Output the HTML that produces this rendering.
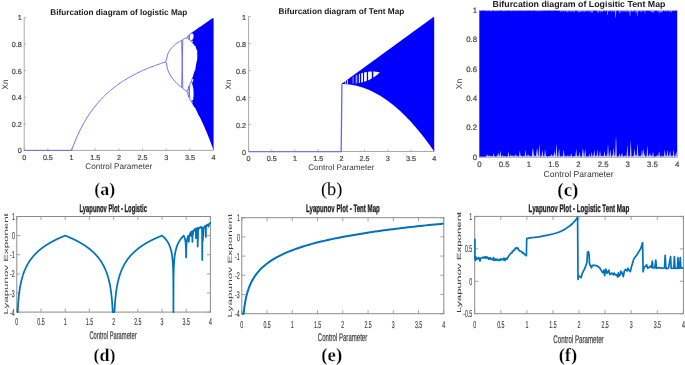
<!DOCTYPE html>
<html><head><meta charset="utf-8"><style>
html,body{margin:0;padding:0;background:#fff;overflow:hidden;}
svg{display:block;filter:blur(0.5px);}
text{font-family:"Liberation Sans",sans-serif;text-rendering:geometricPrecision;}
</style></head><body>
<svg width="685" height="365" viewBox="0 0 685 365">
<rect width="685" height="365" fill="#fff"/>
<g font-family="Liberation Sans, sans-serif">
<path d="M24.20 17.40V150.40H213.60" fill="none" stroke="#a0a0a0" stroke-width="0.9"/>
<path d="M24.20 150.40v-2.0M47.88 150.40v-2.0M71.55 150.40v-2.0M95.23 150.40v-2.0M118.90 150.40v-2.0M142.57 150.40v-2.0M166.25 150.40v-2.0M189.92 150.40v-2.0M213.60 150.40v-2.0M24.20 150.40h2.0M24.20 123.80h2.0M24.20 97.20h2.0M24.20 70.60h2.0M24.20 44.00h2.0M24.20 17.40h2.0" stroke="#a0a0a0" stroke-width="0.8"/>
<text x="24.20" y="159.70" text-anchor="middle" font-size="7.2" fill="#4a4a4a" stroke="#4a4a4a" stroke-width="0.22">0</text>
<text x="47.88" y="159.70" text-anchor="middle" font-size="7.2" fill="#4a4a4a" stroke="#4a4a4a" stroke-width="0.22">0.5</text>
<text x="71.55" y="159.70" text-anchor="middle" font-size="7.2" fill="#4a4a4a" stroke="#4a4a4a" stroke-width="0.22">1</text>
<text x="95.23" y="159.70" text-anchor="middle" font-size="7.2" fill="#4a4a4a" stroke="#4a4a4a" stroke-width="0.22">1.5</text>
<text x="118.90" y="159.70" text-anchor="middle" font-size="7.2" fill="#4a4a4a" stroke="#4a4a4a" stroke-width="0.22">2</text>
<text x="142.57" y="159.70" text-anchor="middle" font-size="7.2" fill="#4a4a4a" stroke="#4a4a4a" stroke-width="0.22">2.5</text>
<text x="166.25" y="159.70" text-anchor="middle" font-size="7.2" fill="#4a4a4a" stroke="#4a4a4a" stroke-width="0.22">3</text>
<text x="189.92" y="159.70" text-anchor="middle" font-size="7.2" fill="#4a4a4a" stroke="#4a4a4a" stroke-width="0.22">3.5</text>
<text x="213.60" y="159.70" text-anchor="middle" font-size="7.2" fill="#4a4a4a" stroke="#4a4a4a" stroke-width="0.22">4</text>
<text x="21.70" y="153.49" text-anchor="end" font-size="7.2" fill="#4a4a4a" stroke="#4a4a4a" stroke-width="0.22">0</text>
<text x="21.70" y="126.89" text-anchor="end" font-size="7.2" fill="#4a4a4a" stroke="#4a4a4a" stroke-width="0.22">0.2</text>
<text x="21.70" y="100.29" text-anchor="end" font-size="7.2" fill="#4a4a4a" stroke="#4a4a4a" stroke-width="0.22">0.4</text>
<text x="21.70" y="73.69" text-anchor="end" font-size="7.2" fill="#4a4a4a" stroke="#4a4a4a" stroke-width="0.22">0.6</text>
<text x="21.70" y="47.09" text-anchor="end" font-size="7.2" fill="#4a4a4a" stroke="#4a4a4a" stroke-width="0.22">0.8</text>
<text x="21.70" y="20.49" text-anchor="end" font-size="7.2" fill="#4a4a4a" stroke="#4a4a4a" stroke-width="0.22">1</text>
<text x="118.80" y="14.60" text-anchor="middle" font-size="8.2" font-weight="bold" fill="#1a1a1a">Bifurcation diagram of logistic Map</text>
<text x="118.80" y="168.80" text-anchor="middle" font-size="8.2" fill="#383838">Control Parameter</text>
<text transform="translate(8.30,84.40) rotate(-90)" text-anchor="middle" font-size="8.2" fill="#383838">Xn</text>
<text x="104.75" y="194.80" text-anchor="middle" style="font-family:'Liberation Serif',serif" font-size="17.9" font-weight="bold" fill="#000" stroke="#fff" stroke-width="0.25">(a)</text>
<path d="M248.60 16.50V151.50H434.20" fill="none" stroke="#a0a0a0" stroke-width="0.9"/>
<path d="M248.60 151.50v-2.0M271.80 151.50v-2.0M295.00 151.50v-2.0M318.20 151.50v-2.0M341.40 151.50v-2.0M364.60 151.50v-2.0M387.80 151.50v-2.0M411.00 151.50v-2.0M434.20 151.50v-2.0M248.60 151.50h2.0M248.60 124.50h2.0M248.60 97.50h2.0M248.60 70.50h2.0M248.60 43.50h2.0M248.60 16.50h2.0" stroke="#a0a0a0" stroke-width="0.8"/>
<text x="248.60" y="160.80" text-anchor="middle" font-size="7.2" fill="#4a4a4a" stroke="#4a4a4a" stroke-width="0.22">0</text>
<text x="271.80" y="160.80" text-anchor="middle" font-size="7.2" fill="#4a4a4a" stroke="#4a4a4a" stroke-width="0.22">0.5</text>
<text x="295.00" y="160.80" text-anchor="middle" font-size="7.2" fill="#4a4a4a" stroke="#4a4a4a" stroke-width="0.22">1</text>
<text x="318.20" y="160.80" text-anchor="middle" font-size="7.2" fill="#4a4a4a" stroke="#4a4a4a" stroke-width="0.22">1.5</text>
<text x="341.40" y="160.80" text-anchor="middle" font-size="7.2" fill="#4a4a4a" stroke="#4a4a4a" stroke-width="0.22">2</text>
<text x="364.60" y="160.80" text-anchor="middle" font-size="7.2" fill="#4a4a4a" stroke="#4a4a4a" stroke-width="0.22">2.5</text>
<text x="387.80" y="160.80" text-anchor="middle" font-size="7.2" fill="#4a4a4a" stroke="#4a4a4a" stroke-width="0.22">3</text>
<text x="411.00" y="160.80" text-anchor="middle" font-size="7.2" fill="#4a4a4a" stroke="#4a4a4a" stroke-width="0.22">3.5</text>
<text x="434.20" y="160.80" text-anchor="middle" font-size="7.2" fill="#4a4a4a" stroke="#4a4a4a" stroke-width="0.22">4</text>
<text x="246.10" y="154.59" text-anchor="end" font-size="7.2" fill="#4a4a4a" stroke="#4a4a4a" stroke-width="0.22">0</text>
<text x="246.10" y="127.59" text-anchor="end" font-size="7.2" fill="#4a4a4a" stroke="#4a4a4a" stroke-width="0.22">0.2</text>
<text x="246.10" y="100.59" text-anchor="end" font-size="7.2" fill="#4a4a4a" stroke="#4a4a4a" stroke-width="0.22">0.4</text>
<text x="246.10" y="73.59" text-anchor="end" font-size="7.2" fill="#4a4a4a" stroke="#4a4a4a" stroke-width="0.22">0.6</text>
<text x="246.10" y="46.59" text-anchor="end" font-size="7.2" fill="#4a4a4a" stroke="#4a4a4a" stroke-width="0.22">0.8</text>
<text x="246.10" y="19.59" text-anchor="end" font-size="7.2" fill="#4a4a4a" stroke="#4a4a4a" stroke-width="0.22">1</text>
<text x="341.40" y="14.20" text-anchor="middle" font-size="8.26" font-weight="bold" fill="#1a1a1a">Bifurcation diagram of Tent Map</text>
<text x="341.30" y="170.00" text-anchor="middle" font-size="8.1" fill="#383838">Control Parameter</text>
<text transform="translate(231.40,84.50) rotate(-90)" text-anchor="middle" font-size="8.1" fill="#383838">Xn</text>
<text x="331.65" y="194.60" text-anchor="middle" style="font-family:'Liberation Serif',serif" font-size="18.4" font-weight="normal" fill="#000">(b)</text>
<path d="M479.50 10.50V157.30H677.20" fill="none" stroke="#a0a0a0" stroke-width="0.9"/>
<path d="M479.50 157.30v-2.0M504.21 157.30v-2.0M528.92 157.30v-2.0M553.64 157.30v-2.0M578.35 157.30v-2.0M603.06 157.30v-2.0M627.78 157.30v-2.0M652.49 157.30v-2.0M677.20 157.30v-2.0M479.50 157.30h2.0M479.50 127.94h2.0M479.50 98.58h2.0M479.50 69.22h2.0M479.50 39.86h2.0M479.50 10.50h2.0" stroke="#a0a0a0" stroke-width="0.8"/>
<text x="479.50" y="166.80" text-anchor="middle" font-size="7.8" fill="#4a4a4a" stroke="#4a4a4a" stroke-width="0.22">0</text>
<text x="504.21" y="166.80" text-anchor="middle" font-size="7.8" fill="#4a4a4a" stroke="#4a4a4a" stroke-width="0.22">0.5</text>
<text x="528.92" y="166.80" text-anchor="middle" font-size="7.8" fill="#4a4a4a" stroke="#4a4a4a" stroke-width="0.22">1</text>
<text x="553.64" y="166.80" text-anchor="middle" font-size="7.8" fill="#4a4a4a" stroke="#4a4a4a" stroke-width="0.22">1.5</text>
<text x="578.35" y="166.80" text-anchor="middle" font-size="7.8" fill="#4a4a4a" stroke="#4a4a4a" stroke-width="0.22">2</text>
<text x="603.06" y="166.80" text-anchor="middle" font-size="7.8" fill="#4a4a4a" stroke="#4a4a4a" stroke-width="0.22">2.5</text>
<text x="627.78" y="166.80" text-anchor="middle" font-size="7.8" fill="#4a4a4a" stroke="#4a4a4a" stroke-width="0.22">3</text>
<text x="652.49" y="166.80" text-anchor="middle" font-size="7.8" fill="#4a4a4a" stroke="#4a4a4a" stroke-width="0.22">3.5</text>
<text x="677.20" y="166.80" text-anchor="middle" font-size="7.8" fill="#4a4a4a" stroke="#4a4a4a" stroke-width="0.22">4</text>
<text x="477.00" y="159.71" text-anchor="end" font-size="7.8" fill="#4a4a4a" stroke="#4a4a4a" stroke-width="0.22">0</text>
<text x="477.00" y="130.35" text-anchor="end" font-size="7.8" fill="#4a4a4a" stroke="#4a4a4a" stroke-width="0.22">0.2</text>
<text x="477.00" y="100.99" text-anchor="end" font-size="7.8" fill="#4a4a4a" stroke="#4a4a4a" stroke-width="0.22">0.4</text>
<text x="477.00" y="71.63" text-anchor="end" font-size="7.8" fill="#4a4a4a" stroke="#4a4a4a" stroke-width="0.22">0.6</text>
<text x="477.00" y="42.27" text-anchor="end" font-size="7.8" fill="#4a4a4a" stroke="#4a4a4a" stroke-width="0.22">0.8</text>
<text x="477.00" y="12.91" text-anchor="end" font-size="7.8" fill="#4a4a4a" stroke="#4a4a4a" stroke-width="0.22">1</text>
<text x="579.00" y="7.20" text-anchor="middle" font-size="8.8" font-weight="bold" fill="#1a1a1a">Bifurcation diagram of Logisitic Tent Map</text>
<text x="578.60" y="177.00" text-anchor="middle" font-size="8.58" fill="#383838">Control Parameter</text>
<text transform="translate(461.90,84.00) rotate(-90)" text-anchor="middle" font-size="8.58" fill="#383838">Xn</text>
<text x="567.90" y="195.60" text-anchor="middle" style="font-family:'Liberation Serif',serif" font-size="19.0" font-weight="bold" fill="#000" stroke="#fff" stroke-width="0.25">(c)</text>
<rect x="16.80" y="216.50" width="193.60" height="95.60" fill="none" stroke="#8c8c8c" stroke-width="1.0"/>
<path d="M16.80 312.10v-3.5M16.80 216.50v3.5M41.00 312.10v-3.5M41.00 216.50v3.5M65.20 312.10v-3.5M65.20 216.50v3.5M89.40 312.10v-3.5M89.40 216.50v3.5M113.60 312.10v-3.5M113.60 216.50v3.5M137.80 312.10v-3.5M137.80 216.50v3.5M162.00 312.10v-3.5M162.00 216.50v3.5M186.20 312.10v-3.5M186.20 216.50v3.5M210.40 312.10v-3.5M210.40 216.50v3.5M16.80 312.10h3.5M210.40 312.10h-3.5M16.80 292.98h3.5M210.40 292.98h-3.5M16.80 273.86h3.5M210.40 273.86h-3.5M16.80 254.74h3.5M210.40 254.74h-3.5M16.80 235.62h3.5M210.40 235.62h-3.5M16.80 216.50h3.5M210.40 216.50h-3.5" stroke="#8c8c8c" stroke-width="0.8"/>
<text transform="translate(16.80,325.00) scale(0.525,1)" text-anchor="middle" font-size="10.0" fill="#383838" stroke="#383838" stroke-width="0.15">0</text>
<text transform="translate(41.00,325.00) scale(0.525,1)" text-anchor="middle" font-size="10.0" fill="#383838" stroke="#383838" stroke-width="0.15">0.5</text>
<text transform="translate(65.20,325.00) scale(0.525,1)" text-anchor="middle" font-size="10.0" fill="#383838" stroke="#383838" stroke-width="0.15">1</text>
<text transform="translate(89.40,325.00) scale(0.525,1)" text-anchor="middle" font-size="10.0" fill="#383838" stroke="#383838" stroke-width="0.15">1.5</text>
<text transform="translate(113.60,325.00) scale(0.525,1)" text-anchor="middle" font-size="10.0" fill="#383838" stroke="#383838" stroke-width="0.15">2</text>
<text transform="translate(137.80,325.00) scale(0.525,1)" text-anchor="middle" font-size="10.0" fill="#383838" stroke="#383838" stroke-width="0.15">2.5</text>
<text transform="translate(162.00,325.00) scale(0.525,1)" text-anchor="middle" font-size="10.0" fill="#383838" stroke="#383838" stroke-width="0.15">3</text>
<text transform="translate(186.20,325.00) scale(0.525,1)" text-anchor="middle" font-size="10.0" fill="#383838" stroke="#383838" stroke-width="0.15">3.5</text>
<text transform="translate(210.40,325.00) scale(0.525,1)" text-anchor="middle" font-size="10.0" fill="#383838" stroke="#383838" stroke-width="0.15">4</text>
<text transform="translate(14.80,315.70) scale(0.525,1)" text-anchor="end" font-size="10.0" fill="#383838" stroke="#383838" stroke-width="0.15">-4</text>
<text transform="translate(14.80,296.58) scale(0.525,1)" text-anchor="end" font-size="10.0" fill="#383838" stroke="#383838" stroke-width="0.15">-3</text>
<text transform="translate(14.80,277.46) scale(0.525,1)" text-anchor="end" font-size="10.0" fill="#383838" stroke="#383838" stroke-width="0.15">-2</text>
<text transform="translate(14.80,258.34) scale(0.525,1)" text-anchor="end" font-size="10.0" fill="#383838" stroke="#383838" stroke-width="0.15">-1</text>
<text transform="translate(14.80,239.22) scale(0.525,1)" text-anchor="end" font-size="10.0" fill="#383838" stroke="#383838" stroke-width="0.15">0</text>
<text transform="translate(14.80,220.10) scale(0.525,1)" text-anchor="end" font-size="10.0" fill="#383838" stroke="#383838" stroke-width="0.15">1</text>
<text transform="translate(113.20,212.20) scale(0.529,1)" text-anchor="middle" font-size="11.0" font-weight="bold" fill="#1a1a1a" stroke="#1a1a1a" stroke-width="0.3">Lyapunov Plot - Logistic</text>
<text transform="translate(113.00,339.00) scale(0.525,1)" text-anchor="middle" font-size="11.0" fill="#404040" stroke="#404040" stroke-width="0.25">Control Parameter</text>
<text transform="translate(7.60,263.80) scale(0.52,1) rotate(-90)" text-anchor="middle" font-size="11.5" fill="#404040">Lyapunov Exponent</text>
<text x="104.45" y="361.20" text-anchor="middle" style="font-family:'Liberation Serif',serif" font-size="18.0" font-weight="bold" fill="#000" stroke="#fff" stroke-width="0.25">(d)</text>
<rect x="241.80" y="217.70" width="202.00" height="96.00" fill="none" stroke="#8c8c8c" stroke-width="1.0"/>
<path d="M241.80 313.70v-3.5M241.80 217.70v3.5M267.05 313.70v-3.5M267.05 217.70v3.5M292.30 313.70v-3.5M292.30 217.70v3.5M317.55 313.70v-3.5M317.55 217.70v3.5M342.80 313.70v-3.5M342.80 217.70v3.5M368.05 313.70v-3.5M368.05 217.70v3.5M393.30 313.70v-3.5M393.30 217.70v3.5M418.55 313.70v-3.5M418.55 217.70v3.5M443.80 313.70v-3.5M443.80 217.70v3.5M241.80 313.70h3.5M443.80 313.70h-3.5M241.80 294.50h3.5M443.80 294.50h-3.5M241.80 275.30h3.5M443.80 275.30h-3.5M241.80 256.10h3.5M443.80 256.10h-3.5M241.80 236.90h3.5M443.80 236.90h-3.5M241.80 217.70h3.5M443.80 217.70h-3.5" stroke="#8c8c8c" stroke-width="0.8"/>
<text transform="translate(241.80,327.90) scale(0.525,1)" text-anchor="middle" font-size="10.0" fill="#383838" stroke="#383838" stroke-width="0.15">0</text>
<text transform="translate(267.05,327.90) scale(0.525,1)" text-anchor="middle" font-size="10.0" fill="#383838" stroke="#383838" stroke-width="0.15">0.5</text>
<text transform="translate(292.30,327.90) scale(0.525,1)" text-anchor="middle" font-size="10.0" fill="#383838" stroke="#383838" stroke-width="0.15">1</text>
<text transform="translate(317.55,327.90) scale(0.525,1)" text-anchor="middle" font-size="10.0" fill="#383838" stroke="#383838" stroke-width="0.15">1.5</text>
<text transform="translate(342.80,327.90) scale(0.525,1)" text-anchor="middle" font-size="10.0" fill="#383838" stroke="#383838" stroke-width="0.15">2</text>
<text transform="translate(368.05,327.90) scale(0.525,1)" text-anchor="middle" font-size="10.0" fill="#383838" stroke="#383838" stroke-width="0.15">2.5</text>
<text transform="translate(393.30,327.90) scale(0.525,1)" text-anchor="middle" font-size="10.0" fill="#383838" stroke="#383838" stroke-width="0.15">3</text>
<text transform="translate(418.55,327.90) scale(0.525,1)" text-anchor="middle" font-size="10.0" fill="#383838" stroke="#383838" stroke-width="0.15">3.5</text>
<text transform="translate(443.80,327.90) scale(0.525,1)" text-anchor="middle" font-size="10.0" fill="#383838" stroke="#383838" stroke-width="0.15">4</text>
<text transform="translate(239.80,317.30) scale(0.525,1)" text-anchor="end" font-size="10.0" fill="#383838" stroke="#383838" stroke-width="0.15">-4</text>
<text transform="translate(239.80,298.10) scale(0.525,1)" text-anchor="end" font-size="10.0" fill="#383838" stroke="#383838" stroke-width="0.15">-3</text>
<text transform="translate(239.80,278.90) scale(0.525,1)" text-anchor="end" font-size="10.0" fill="#383838" stroke="#383838" stroke-width="0.15">-2</text>
<text transform="translate(239.80,259.70) scale(0.525,1)" text-anchor="end" font-size="10.0" fill="#383838" stroke="#383838" stroke-width="0.15">-1</text>
<text transform="translate(239.80,240.50) scale(0.525,1)" text-anchor="end" font-size="10.0" fill="#383838" stroke="#383838" stroke-width="0.15">0</text>
<text transform="translate(239.80,221.30) scale(0.525,1)" text-anchor="end" font-size="10.0" fill="#383838" stroke="#383838" stroke-width="0.15">1</text>
<text transform="translate(342.90,212.40) scale(0.556,1)" text-anchor="middle" font-size="11.0" font-weight="bold" fill="#1a1a1a" stroke="#1a1a1a" stroke-width="0.3">Lyapunov Plot - Tent Map</text>
<text transform="translate(342.50,341.20) scale(0.55,1)" text-anchor="middle" font-size="11.0" fill="#404040" stroke="#404040" stroke-width="0.25">Control Parameter</text>
<text transform="translate(232.20,265.60) scale(0.52,1) rotate(-90)" text-anchor="middle" font-size="11.8" fill="#404040">Lyapunov Exponent</text>
<text x="331.75" y="361.40" text-anchor="middle" style="font-family:'Liberation Serif',serif" font-size="18.8" font-weight="bold" fill="#000" stroke="#fff" stroke-width="0.25">(e)</text>
<rect x="474.70" y="216.40" width="208.70" height="97.30" fill="none" stroke="#8c8c8c" stroke-width="1.0"/>
<path d="M474.70 313.70v-3.5M474.70 216.40v3.5M500.79 313.70v-3.5M500.79 216.40v3.5M526.88 313.70v-3.5M526.88 216.40v3.5M552.96 313.70v-3.5M552.96 216.40v3.5M579.05 313.70v-3.5M579.05 216.40v3.5M605.14 313.70v-3.5M605.14 216.40v3.5M631.22 313.70v-3.5M631.22 216.40v3.5M657.31 313.70v-3.5M657.31 216.40v3.5M683.40 313.70v-3.5M683.40 216.40v3.5M474.70 313.70h3.5M683.40 313.70h-3.5M474.70 281.27h3.5M683.40 281.27h-3.5M474.70 248.83h3.5M683.40 248.83h-3.5M474.70 216.40h3.5M683.40 216.40h-3.5" stroke="#8c8c8c" stroke-width="0.8"/>
<text transform="translate(474.70,328.20) scale(0.525,1)" text-anchor="middle" font-size="10.0" fill="#383838" stroke="#383838" stroke-width="0.15">0</text>
<text transform="translate(500.79,328.20) scale(0.525,1)" text-anchor="middle" font-size="10.0" fill="#383838" stroke="#383838" stroke-width="0.15">0.5</text>
<text transform="translate(526.88,328.20) scale(0.525,1)" text-anchor="middle" font-size="10.0" fill="#383838" stroke="#383838" stroke-width="0.15">1</text>
<text transform="translate(552.96,328.20) scale(0.525,1)" text-anchor="middle" font-size="10.0" fill="#383838" stroke="#383838" stroke-width="0.15">1.5</text>
<text transform="translate(579.05,328.20) scale(0.525,1)" text-anchor="middle" font-size="10.0" fill="#383838" stroke="#383838" stroke-width="0.15">2</text>
<text transform="translate(605.14,328.20) scale(0.525,1)" text-anchor="middle" font-size="10.0" fill="#383838" stroke="#383838" stroke-width="0.15">2.5</text>
<text transform="translate(631.22,328.20) scale(0.525,1)" text-anchor="middle" font-size="10.0" fill="#383838" stroke="#383838" stroke-width="0.15">3</text>
<text transform="translate(657.31,328.20) scale(0.525,1)" text-anchor="middle" font-size="10.0" fill="#383838" stroke="#383838" stroke-width="0.15">3.5</text>
<text transform="translate(683.40,328.20) scale(0.525,1)" text-anchor="middle" font-size="10.0" fill="#383838" stroke="#383838" stroke-width="0.15">4</text>
<text transform="translate(472.20,317.30) scale(0.525,1)" text-anchor="end" font-size="10.0" fill="#383838" stroke="#383838" stroke-width="0.15">-0.5</text>
<text transform="translate(472.20,284.87) scale(0.525,1)" text-anchor="end" font-size="10.0" fill="#383838" stroke="#383838" stroke-width="0.15">0</text>
<text transform="translate(472.20,252.43) scale(0.525,1)" text-anchor="end" font-size="10.0" fill="#383838" stroke="#383838" stroke-width="0.15">0.5</text>
<text transform="translate(472.20,220.00) scale(0.525,1)" text-anchor="end" font-size="10.0" fill="#383838" stroke="#383838" stroke-width="0.15">1</text>
<text transform="translate(578.90,211.70) scale(0.566,1)" text-anchor="middle" font-size="11.0" font-weight="bold" fill="#1a1a1a" stroke="#1a1a1a" stroke-width="0.3">Lyapunov Plot - Logistic Tent Map</text>
<text transform="translate(578.50,343.00) scale(0.56,1)" text-anchor="middle" font-size="11.0" fill="#404040" stroke="#404040" stroke-width="0.25">Control Parameter</text>
<text transform="translate(460.60,262.30) scale(0.52,1) rotate(-90)" text-anchor="middle" font-size="11.5" fill="#404040" stroke="#404040" stroke-width="0.1">Lyapunov Exponent</text>
<text x="567.95" y="361.40" text-anchor="middle" style="font-family:'Liberation Serif',serif" font-size="18.6" font-weight="bold" fill="#000" stroke="#fff" stroke-width="0.25">(f)</text>
<path d="M24.20 150.40 25.38 150.40 26.57 150.40 27.75 150.40 28.93 150.40 30.12 150.40 31.30 150.40 32.49 150.40 33.67 150.40 34.85 150.40 36.04 150.40 37.22 150.40 38.41 150.40 39.59 150.40 40.77 150.40 41.96 150.40 43.14 150.40 44.32 150.40 45.51 150.40 46.69 150.40 47.88 150.40 49.06 150.40 50.24 150.40 51.43 150.40 52.61 150.40 53.79 150.40 54.98 150.40 56.16 150.40 57.34 150.40 58.53 150.40 59.71 150.40 60.90 150.40 62.08 150.40 63.26 150.40 64.45 150.40 65.63 150.40 66.81 150.40 68.00 150.40 69.18 150.40 70.37 150.40 71.55 150.27 72.73 147.16 73.92 144.07 75.10 141.12 76.29 138.31 77.47 135.62 78.65 133.05 79.84 130.59 81.02 128.23 82.20 125.97 83.39 123.80 84.57 121.71 85.76 119.71 86.94 117.78 88.12 115.92 89.31 114.13 90.49 112.40 91.67 110.73 92.86 109.12 94.04 107.57 95.23 106.07 96.41 104.61 97.59 103.21 98.78 101.84 99.96 100.53 101.14 99.25 102.33 98.01 103.51 96.80 104.70 95.64 105.88 94.50 107.06 93.40 108.25 92.33 109.43 91.29 110.61 90.28 111.80 89.29 112.98 88.33 114.17 87.40 115.35 86.49 116.53 85.61 117.72 84.74 118.90 83.90 120.08 83.08 121.27 82.28 122.45 81.50 123.64 80.73 124.82 79.99 126.00 79.26 127.19 78.55 128.37 77.85 129.55 77.18 130.74 76.51 131.92 75.86 133.11 75.23 134.29 74.60 135.47 74.00 136.66 73.40 137.84 72.82 139.02 72.25 140.21 71.69 141.39 71.14 142.57 70.60 143.76 70.07 144.94 69.56 146.13 69.05 147.31 68.55 148.49 68.07 149.68 67.59 150.86 67.12 152.05 66.66 153.23 66.21 154.41 65.76 155.60 65.33 156.78 64.90 157.96 64.48 159.15 64.07 160.33 63.66 161.52 63.26 162.70 62.87 163.88 62.48 165.07 62.11 166.25 62.71 167.43 68.89 168.62 71.91 169.80 74.23 170.98 76.18 172.17 77.90 173.35 79.45 174.54 80.86 175.72 82.17 176.90 83.38 178.09 84.53 179.27 85.61 180.46 86.64 181.64 87.61 182.82 39.56 184.01 38.96 185.19 38.39 186.37 37.86 187.56 37.01 188.74 34.99 189.92 40.42 191.11 41.01 192.29 40.30M165.07 62.11 166.25 60.78 167.43 54.94 168.62 52.29 169.80 50.32 170.98 48.71 172.17 47.34 173.35 46.13 174.54 45.05 175.72 44.07 176.90 43.18 178.09 42.35 179.27 41.58 180.46 40.86 181.64 40.19 182.82 88.54 184.01 89.43 185.19 90.29 186.37 91.11 187.56 92.71 188.74 97.36 189.92 83.78 191.11 81.96 192.29 83.10M186.37 37.86 187.56 37.70 188.74 39.59 189.92 34.03 191.11 33.29 192.29 32.38M186.37 91.11 187.56 91.05 188.74 86.15 189.92 99.48 191.11 101.07 192.29 103.21M191.11 41.01 192.29 42.32M191.11 81.96 192.29 78.52M191.11 33.29 192.29 33.14M191.11 101.07 192.29 101.15" fill="none" stroke="#5a5ae8" stroke-width="0.85" stroke-linejoin="round"/>
<path d="M199.32 27.27 198.32 28.02 197.32 29.27 196.82 29.02 195.07 30.52 194.57 30.52 193.82 31.27 192.07 32.27 192.32 32.77 192.07 33.27 193.32 34.02 193.32 34.77 193.57 35.02 193.57 37.27 193.32 37.52 193.32 38.27 192.07 40.27 192.07 40.77 193.32 41.77 192.82 42.27 192.32 42.27 192.07 42.77 193.82 44.52 194.32 45.52 195.32 46.02 195.82 47.02 196.07 48.52 196.82 49.77 196.82 50.27 197.07 50.52 197.57 50.02 197.82 50.27 197.82 51.27 198.07 51.52 198.07 58.27 197.82 58.52 197.82 60.27 197.57 60.52 197.07 60.27 196.82 60.52 196.57 62.52 196.32 62.77 196.32 63.77 196.07 64.03 196.07 65.03 195.82 65.28 195.82 67.03 195.57 67.28 195.32 70.03 194.57 70.78 194.57 71.28 194.07 72.28 194.07 73.03 193.82 73.28 192.82 76.78 192.07 78.28 192.32 78.78 192.82 78.78 193.32 79.28 193.32 80.28 192.07 83.03 192.07 83.53 192.32 83.78 192.32 84.78 192.57 85.03 192.57 85.78 192.82 86.03 192.82 86.78 193.32 88.03 193.32 90.28 193.57 90.53 193.57 96.78 193.32 97.03 193.32 99.28 192.07 101.03 192.07 101.53 192.82 102.53 192.07 103.53 194.57 107.53 195.32 108.03 195.82 109.03 195.82 109.53 196.82 111.28 196.82 111.78 197.07 112.03 197.57 111.28 197.82 111.53 198.07 114.28 199.57 116.53 199.82 116.28 199.82 92.78 199.57 92.53 199.57 90.03 199.82 89.78 199.82 27.52ZM192.57 103.03 192.82 102.78 193.07 103.03 192.82 103.28Z" fill="#0000ff" fill-rule="evenodd"/>
<path d="M197.26 28.87 197.47 28.73 197.68 28.58 197.88 28.44 198.09 28.29 198.30 28.15 198.50 28.00 198.71 27.85 198.92 27.71 199.13 27.56 199.33 27.42 199.54 27.27 199.75 27.13 199.95 26.98 200.16 26.84 200.37 26.69 200.57 26.55 200.78 26.40 200.99 26.26 201.19 26.11 201.40 25.97 201.61 25.82 201.81 25.68 202.02 25.53 202.23 25.39 202.43 25.24 202.64 25.10 202.85 24.95 203.05 24.81 203.26 24.66 203.47 24.52 203.67 24.37 203.88 24.22 204.09 24.08 204.29 23.93 204.50 23.79 204.71 23.64 204.92 23.50 205.12 23.35 205.33 23.21 205.54 23.06 205.74 22.92 205.95 22.77 206.16 22.63 206.36 22.48 206.57 22.34 206.78 22.19 206.98 22.05 207.19 21.90 207.40 21.76 207.60 21.61 207.81 21.47 208.02 21.32 208.22 21.18 208.43 21.03 208.64 20.88 208.84 20.74 209.05 20.59 209.26 20.45 209.46 20.30 209.67 20.16 209.88 20.01 210.08 19.87 210.29 19.72 210.50 19.58 210.71 19.43 210.91 19.29 211.12 19.14 211.33 19.00 211.53 18.85 211.74 18.71 211.95 18.56 212.15 18.42 212.36 18.27 212.57 18.26 212.77 18.26 212.98 18.26 213.19 18.26 213.39 18.26 213.60 18.26 L213.60 150.40 213.39 149.82 213.19 149.24 212.98 148.67 212.77 148.10 212.57 147.53 212.36 146.96 212.15 146.40 211.95 145.83 211.74 145.27 211.53 144.72 211.33 144.16 211.12 143.61 210.91 143.06 210.71 142.52 210.50 141.97 210.29 141.43 210.08 140.89 209.88 140.35 209.67 139.82 209.46 139.29 209.26 138.76 209.05 138.23 208.84 137.70 208.64 137.18 208.43 136.66 208.22 136.14 208.02 135.63 207.81 135.12 207.60 134.61 207.40 134.10 207.19 133.59 206.98 133.09 206.78 132.59 206.57 132.09 206.36 131.60 206.16 131.10 205.95 130.61 205.74 130.12 205.54 129.64 205.33 129.15 205.12 128.67 204.92 128.19 204.71 127.71 204.50 127.24 204.29 126.77 204.09 126.30 203.88 125.83 203.67 125.37 203.47 124.90 203.26 124.44 203.05 123.98 202.85 123.53 202.64 123.08 202.43 122.62 202.23 122.18 202.02 121.73 201.81 121.29 201.61 120.84 201.40 120.40 201.19 119.97 200.99 119.53 200.78 119.10 200.57 118.67 200.37 118.24 200.16 117.81 199.95 117.39 199.75 116.97 199.54 116.55 199.33 116.13 199.13 115.72 198.92 115.31 198.71 114.90 198.50 114.49 198.30 114.08 198.09 113.68 197.88 113.28 197.68 112.88 197.47 112.48 197.26 112.09Z" fill="#0000ff"/>
<path d="M248.60 151.75H341.40" fill="none" stroke="#6a6ae0" stroke-width="1.2"/>
<path d="M341.20 151.50L341.90 84.00" fill="none" stroke="#6262ff" stroke-width="1.3"/>
<path d="M341.86 83.66 342.33 83.33 342.79 82.99 343.25 82.66 343.71 82.32 344.17 81.98 344.63 81.65 345.10 81.31 345.56 80.98 346.02 80.64 346.48 80.30 346.94 79.97 347.40 79.63 347.87 79.30 348.33 78.96 348.79 78.63 349.25 78.29 349.71 77.95 350.17 77.62 350.64 77.28 351.10 76.95 351.56 76.61 352.02 76.27 352.48 75.94 352.94 75.60 353.41 75.27 353.87 74.93 354.33 74.60 354.79 74.26 355.25 73.92 355.71 73.59 356.18 73.25 356.64 72.92 357.10 72.58 357.56 72.24 358.02 71.91 358.48 71.57 358.95 71.24 359.41 70.90 359.87 70.57 360.33 70.23 360.79 69.89 361.25 69.56 361.72 69.22 362.18 68.89 362.64 68.55 363.10 68.22 363.56 67.88 364.02 67.54 364.49 67.21 364.95 66.87 365.41 66.54 365.87 66.20 366.33 65.86 366.79 65.53 367.26 65.19 367.72 64.86 368.18 64.52 368.64 64.19 369.10 63.85 369.56 63.51 370.03 63.18 370.49 62.84 370.95 62.51 371.41 62.17 371.87 61.83 372.33 61.50 372.80 61.16 373.26 60.83 373.72 60.49 374.18 60.16 374.64 59.82 375.10 59.48 375.57 59.15 376.03 58.81 376.49 58.48 376.95 58.14 377.41 57.80 377.88 57.47 378.34 57.13 378.80 56.80 379.26 56.46 379.72 56.13 380.18 55.79 380.65 55.45 381.11 55.12 381.57 54.78 382.03 54.45 382.49 54.11 382.95 53.78 383.42 53.44 383.88 53.10 384.34 52.77 384.80 52.43 385.26 52.10 385.72 51.76 386.19 51.42 386.65 51.09 387.11 50.75 387.57 50.42 388.03 50.08 388.49 49.75 388.96 49.41 389.42 49.07 389.88 48.74 390.34 48.40 390.80 48.07 391.26 47.73 391.73 47.39 392.19 47.06 392.65 46.72 393.11 46.39 393.57 46.05 394.03 45.72 394.50 45.38 394.96 45.04 395.42 44.71 395.88 44.37 396.34 44.04 396.80 43.70 397.27 43.37 397.73 43.03 398.19 42.69 398.65 42.36 399.11 42.02 399.57 41.69 400.04 41.35 400.50 41.01 400.96 40.68 401.42 40.34 401.88 40.01 402.34 39.67 402.81 39.34 403.27 39.00 403.73 38.66 404.19 38.33 404.65 37.99 405.11 37.66 405.58 37.32 406.04 36.98 406.50 36.65 406.96 36.31 407.42 35.98 407.88 35.64 408.35 35.31 408.81 34.97 409.27 34.63 409.73 34.30 410.19 33.96 410.65 33.63 411.12 33.29 411.58 32.95 412.04 32.62 412.50 32.28 412.96 31.95 413.42 31.61 413.89 31.28 414.35 30.94 414.81 30.60 415.27 30.27 415.73 29.93 416.19 29.60 416.66 29.26 417.12 28.93 417.58 28.59 418.04 28.25 418.50 27.92 418.96 27.58 419.43 27.25 419.89 26.91 420.35 26.57 420.81 26.24 421.27 25.90 421.73 25.57 422.20 25.23 422.66 24.90 423.12 24.56 423.58 24.22 424.04 23.89 424.50 23.55 424.97 23.22 425.43 22.88 425.89 22.54 426.35 22.21 426.81 21.87 427.27 21.54 427.74 21.20 428.20 20.87 428.66 20.53 429.12 20.19 429.58 19.86 430.04 19.52 430.51 19.19 430.97 18.85 431.43 18.51 431.89 18.18 432.35 17.84 432.81 17.51 433.28 17.24 433.74 17.24 434.20 17.24 L434.20 151.50 433.74 150.83 433.28 150.16 432.81 149.50 432.35 148.84 431.89 148.18 431.43 147.53 430.97 146.88 430.51 146.23 430.04 145.59 429.58 144.95 429.12 144.31 428.66 143.68 428.20 143.05 427.74 142.42 427.27 141.80 426.81 141.18 426.35 140.57 425.89 139.95 425.43 139.34 424.97 138.74 424.50 138.13 424.04 137.53 423.58 136.94 423.12 136.34 422.66 135.75 422.20 135.17 421.73 134.58 421.27 134.00 420.81 133.43 420.35 132.85 419.89 132.29 419.43 131.72 418.96 131.16 418.50 130.60 418.04 130.04 417.58 129.49 417.12 128.94 416.66 128.39 416.19 127.85 415.73 127.31 415.27 126.77 414.81 126.24 414.35 125.71 413.89 125.18 413.42 124.66 412.96 124.14 412.50 123.62 412.04 123.11 411.58 122.60 411.12 122.10 410.65 121.59 410.19 121.09 409.73 120.60 409.27 120.10 408.81 119.61 408.35 119.13 407.88 118.65 407.42 118.17 406.96 117.69 406.50 117.22 406.04 116.75 405.58 116.28 405.11 115.82 404.65 115.36 404.19 114.90 403.73 114.45 403.27 114.00 402.81 113.55 402.34 113.11 401.88 112.67 401.42 112.24 400.96 111.80 400.50 111.37 400.04 110.95 399.57 110.53 399.11 110.11 398.65 109.69 398.19 109.28 397.73 108.87 397.27 108.46 396.80 108.06 396.34 107.66 395.88 107.26 395.42 106.87 394.96 106.48 394.50 106.10 394.03 105.71 393.57 105.33 393.11 104.96 392.65 104.59 392.19 104.22 391.73 103.85 391.26 103.49 390.80 103.13 390.34 102.77 389.88 102.42 389.42 102.07 388.96 101.73 388.49 101.38 388.03 101.04 387.57 100.71 387.11 100.38 386.65 100.05 386.19 99.72 385.72 99.40 385.26 99.08 384.80 98.76 384.34 98.45 383.88 98.14 383.42 97.84 382.95 97.53 382.49 97.23 382.03 96.94 381.57 96.65 381.11 96.36 380.65 96.07 380.18 95.79 379.72 95.51 379.26 95.23 378.80 94.96 378.34 94.69 377.88 94.43 377.41 94.17 376.95 93.91 376.49 93.65 376.03 93.40 375.57 93.15 375.10 92.90 374.64 92.66 374.18 92.42 373.72 92.19 373.26 91.96 372.80 91.73 372.33 91.50 371.87 91.28 371.41 91.06 370.95 90.84 370.49 90.63 370.03 90.42 369.56 90.22 369.10 90.02 368.64 89.82 368.18 89.62 367.72 89.43 367.26 89.24 366.79 89.05 366.33 88.87 365.87 88.69 365.41 88.52 364.95 88.35 364.49 88.18 364.02 88.01 363.56 87.85 363.10 87.69 362.64 87.54 362.18 87.38 361.72 87.24 361.25 87.09 360.79 86.95 360.33 86.81 359.87 86.67 359.41 86.54 358.95 86.41 358.48 86.29 358.02 86.17 357.56 86.05 357.10 85.93 356.64 85.82 356.18 85.71 355.71 85.61 355.25 85.50 354.79 85.41 354.33 85.31 353.87 85.22 353.41 85.13 352.94 85.04 352.48 84.96 352.02 84.88 351.56 84.81 351.10 84.74 350.64 84.67 350.17 84.60 349.71 84.54 349.25 84.48 348.79 84.43 348.33 84.38 347.87 84.33 347.40 84.28 346.94 84.24 346.48 84.20 346.02 84.17 345.56 84.14 345.10 84.11 344.63 84.08 344.17 84.06 343.71 84.04 343.25 84.03 342.79 84.02 342.33 84.01 341.86 84.00Z" fill="#0000ff"/>
<clipPath id="holeb"><path d="M341.40 84.00 341.72 83.77 342.05 83.53 342.37 83.30 342.69 83.07 343.02 82.85 343.34 82.62 343.66 82.40 343.98 82.17 344.31 81.95 344.63 81.74 344.95 81.52 345.28 81.30 345.60 81.09 345.92 80.88 346.25 80.67 346.57 80.46 346.89 80.26 347.21 80.05 347.54 79.85 347.86 79.65 348.18 79.45 348.51 79.26 348.83 79.06 349.15 78.87 349.48 78.68 349.80 78.49 350.12 78.31 350.44 78.12 350.77 77.94 351.09 77.76 351.41 77.59 351.74 77.41 352.06 77.24 352.38 77.07 352.71 76.90 353.03 76.73 353.35 76.57 353.67 76.41 354.00 76.25 354.32 76.09 354.64 75.94 354.97 75.79 355.29 75.64 355.61 75.49 355.94 75.34 356.26 75.20 356.58 75.06 356.90 74.92 357.23 74.79 357.55 74.65 357.87 74.52 358.20 74.39 358.52 74.27 358.84 74.15 359.17 74.03 359.49 73.91 359.81 73.79 360.13 73.68 360.46 73.57 360.78 73.46 361.10 73.36 361.43 73.26 361.75 73.16 362.07 73.06 362.40 72.97 362.72 72.87 363.04 72.79 363.37 72.70 363.69 72.62 364.01 72.54 364.33 72.46 364.66 72.39 364.98 72.31 365.30 72.25 365.63 72.18 365.95 72.12 366.27 72.06 366.60 72.00 366.92 71.95 367.24 71.90 367.56 71.85 367.89 71.80 368.21 71.76 368.53 71.72 368.86 71.69 369.18 71.65 369.50 71.62 369.83 71.60 370.15 71.57 370.47 71.55 370.79 71.54 371.12 71.52 371.44 71.51 371.76 71.51 372.09 71.50 372.41 71.50 372.73 71.50 373.06 71.51 373.38 71.52 373.70 71.53 374.02 71.55 374.35 71.56 374.67 71.59 374.99 71.61 375.32 71.64 375.64 71.67 375.96 71.71 376.29 71.75 376.61 71.79 376.93 71.84 377.25 71.89 377.58 71.94 377.90 72.00 378.22 72.06 378.55 72.13 378.87 72.19 379.19 72.26 379.52 72.34 379.84 72.42 L379.84 72.42 379.52 72.72 379.19 73.02 378.87 73.32 378.55 73.61 378.22 73.89 377.90 74.17 377.58 74.44 377.25 74.71 376.93 74.97 376.61 75.23 376.29 75.48 375.96 75.73 375.64 75.97 375.32 76.20 374.99 76.44 374.67 76.66 374.35 76.89 374.02 77.10 373.70 77.32 373.38 77.52 373.06 77.73 372.73 77.93 372.41 78.12 372.09 78.31 371.76 78.50 371.44 78.68 371.12 78.86 370.79 79.03 370.47 79.20 370.15 79.36 369.83 79.53 369.50 79.68 369.18 79.84 368.86 79.99 368.53 80.13 368.21 80.27 367.89 80.41 367.56 80.55 367.24 80.68 366.92 80.81 366.60 80.93 366.27 81.05 365.95 81.17 365.63 81.28 365.30 81.40 364.98 81.50 364.66 81.61 364.33 81.71 364.01 81.81 363.69 81.91 363.37 82.00 363.04 82.09 362.72 82.18 362.40 82.26 362.07 82.34 361.75 82.42 361.43 82.50 361.10 82.57 360.78 82.64 360.46 82.71 360.13 82.78 359.81 82.84 359.49 82.90 359.17 82.96 358.84 83.02 358.52 83.07 358.20 83.13 357.87 83.18 357.55 83.23 357.23 83.27 356.90 83.32 356.58 83.36 356.26 83.40 355.94 83.44 355.61 83.48 355.29 83.51 354.97 83.55 354.64 83.58 354.32 83.61 354.00 83.64 353.67 83.67 353.35 83.69 353.03 83.72 352.71 83.74 352.38 83.76 352.06 83.78 351.74 83.80 351.41 83.82 351.09 83.84 350.77 83.85 350.44 83.87 350.12 83.88 349.80 83.90 349.48 83.91 349.15 83.92 348.83 83.93 348.51 83.94 348.18 83.95 347.86 83.95 347.54 83.96 347.21 83.97 346.89 83.97 346.57 83.98 346.25 83.98 345.92 83.98 345.60 83.99 345.28 83.99 344.95 83.99 344.63 83.99 344.31 84.00 343.98 84.00 343.66 84.00 343.34 84.00 343.02 84.00 342.69 84.00 342.37 84.00 342.05 84.00 341.72 84.00 341.40 84.00Z"/></clipPath>
<g clip-path="url(#holeb)"><rect x="345.2" y="60" width="0.90" height="30" fill="#fff" fill-opacity="0.9"/><rect x="347.0" y="60" width="0.90" height="30" fill="#fff" fill-opacity="0.9"/><rect x="352.5" y="60" width="1.30" height="30" fill="#fff" fill-opacity="0.45"/><rect x="355.6" y="60" width="1.70" height="30" fill="#fff" fill-opacity="0.6"/><rect x="358.9" y="60" width="1.00" height="30" fill="#fff" fill-opacity="1"/><rect x="361.2" y="60" width="1.70" height="30" fill="#fff" fill-opacity="1"/><rect x="364.1" y="60" width="2.70" height="30" fill="#fff" fill-opacity="1"/><rect x="368.1" y="60" width="3.70" height="30" fill="#fff" fill-opacity="1"/><rect x="373.3" y="60" width="7.70" height="30" fill="#fff" fill-opacity="1"/></g>
<rect x="479.50" y="10.30" width="197.70" height="146.60" fill="#0000ff"/>
<path d="M486.20 156.9L486.98 154.30L487.22 154.30L488.00 156.9ZM492.70 156.9L493.48 153.60L493.72 153.60L494.50 156.9ZM497.20 156.9L497.98 152.80L498.22 152.80L499.00 156.9ZM499.50 156.9L500.28 151.30L500.52 151.30L501.30 156.9ZM507.50 156.9L508.28 151.70L508.52 151.70L509.30 156.9ZM514.30 156.9L515.08 154.30L515.32 154.30L516.10 156.9ZM518.90 156.9L519.68 150.90L519.92 150.90L520.70 156.9ZM524.60 156.9L525.38 150.50L525.62 150.50L526.40 156.9ZM531.62 156.9L532.78 148.30L533.02 148.30L534.18 156.9ZM535.82 156.9L536.98 148.30L537.22 148.30L538.38 156.9ZM538.50 156.9L539.28 144.80L539.52 144.80L540.30 156.9ZM541.50 156.9L542.28 150.50L542.52 150.50L543.30 156.9ZM544.20 156.9L544.98 149.80L545.22 149.80L546.00 156.9ZM550.60 156.9L551.38 154.00L551.62 154.00L552.40 156.9ZM553.70 156.9L554.48 151.30L554.72 151.30L555.50 156.9ZM555.60 156.9L556.38 144.50L556.62 144.50L557.40 156.9ZM558.20 156.9L558.98 149.00L559.22 149.00L560.00 156.9ZM562.80 156.9L563.58 150.10L563.82 150.10L564.60 156.9ZM570.40 156.9L571.18 153.60L571.42 153.60L572.20 156.9ZM575.30 156.9L576.08 149.40L576.32 149.40L577.10 156.9ZM578.60 156.9L579.38 152.20L579.62 152.20L580.40 156.9ZM581.78 156.9L582.78 148.40L583.02 148.40L584.02 156.9ZM584.30 156.9L585.08 149.60L585.32 149.60L586.10 156.9ZM588.50 156.9L589.28 154.10L589.52 154.10L590.30 156.9ZM590.80 156.9L591.58 152.20L591.82 152.20L592.60 156.9ZM593.40 156.9L594.18 150.30L594.42 150.30L595.20 156.9ZM596.50 156.9L597.28 150.00L597.52 150.00L598.30 156.9ZM599.10 156.9L599.88 151.10L600.12 151.10L600.90 156.9ZM603.70 156.9L604.48 151.50L604.72 151.50L605.50 156.9ZM607.10 156.9L607.88 145.00L608.12 145.00L608.90 156.9ZM609.40 156.9L610.18 150.30L610.42 150.30L611.20 156.9ZM612.80 156.9L613.58 148.00L613.82 148.00L614.60 156.9ZM615.10 156.9L615.88 137.00L616.12 137.00L616.90 156.9ZM618.50 156.9L619.28 153.40L619.52 153.40L620.30 156.9ZM621.10 156.9L621.88 153.00L622.12 153.00L622.90 156.9ZM626.50 156.9L627.28 145.80L627.52 145.80L628.30 156.9ZM629.80 156.9L630.58 141.60L630.82 141.60L631.60 156.9ZM633.60 156.9L634.38 149.20L634.62 149.20L635.40 156.9ZM636.60 156.9L637.38 143.90L637.62 143.90L638.40 156.9ZM641.10 156.9L641.88 150.00L642.12 150.00L642.90 156.9ZM642.70 156.9L643.48 149.20L643.72 149.20L644.50 156.9ZM646.50 156.9L647.28 146.50L647.52 146.50L648.30 156.9ZM649.10 156.9L649.88 153.00L650.12 153.00L650.90 156.9ZM652.10 156.9L652.88 152.20L653.12 152.20L653.90 156.9ZM658.20 156.9L658.98 151.50L659.22 151.50L660.00 156.9ZM663.90 156.9L664.68 150.00L664.92 150.00L665.70 156.9ZM666.60 156.9L667.38 150.30L667.62 150.30L668.40 156.9ZM669.20 156.9L669.98 151.10L670.22 151.10L671.00 156.9ZM672.70 156.9L673.48 150.30L673.72 150.30L674.50 156.9ZM675.30 156.9L676.08 151.80L676.32 151.80L677.10 156.9ZM479.30 156.9L480.00 156.49L480.70 156.9ZM480.20 156.9L480.90 156.41L481.60 156.9ZM481.10 156.9L481.80 156.65L482.50 156.9ZM482.00 156.9L482.70 156.80L483.40 156.9ZM482.90 156.9L483.60 156.40L484.30 156.9ZM483.80 156.9L484.50 156.65L485.20 156.9ZM484.70 156.9L485.40 156.67L486.10 156.9ZM485.60 156.9L486.30 155.84L487.00 156.9ZM486.50 156.9L487.20 155.11L487.90 156.9ZM487.40 156.9L488.10 155.67L488.80 156.9ZM488.30 156.9L489.00 154.98L489.70 156.9ZM489.20 156.9L489.90 155.36L490.60 156.9ZM490.10 156.9L490.80 155.90L491.50 156.9ZM491.00 156.9L491.70 155.66L492.40 156.9ZM491.90 156.9L492.60 155.85L493.30 156.9ZM492.80 156.9L493.50 155.18L494.20 156.9ZM493.70 156.9L494.40 156.30L495.10 156.9ZM494.60 156.9L495.30 156.59L496.00 156.9ZM495.50 156.9L496.20 156.37L496.90 156.9ZM496.40 156.9L497.10 155.28L497.80 156.9ZM497.30 156.9L498.00 155.33L498.70 156.9ZM498.20 156.9L498.90 154.28L499.60 156.9ZM499.10 156.9L499.80 155.84L500.50 156.9ZM500.00 156.9L500.70 156.06L501.40 156.9ZM500.90 156.9L501.60 156.51L502.30 156.9ZM501.80 156.9L502.50 154.55L503.20 156.9ZM502.70 156.9L503.40 156.03L504.10 156.9ZM503.60 156.9L504.30 155.72L505.00 156.9ZM504.50 156.9L505.20 155.64L505.90 156.9ZM505.40 156.9L506.10 156.37L506.80 156.9ZM506.30 156.9L507.00 156.24L507.70 156.9ZM507.20 156.9L507.90 156.45L508.60 156.9ZM508.10 156.9L508.80 156.28L509.50 156.9ZM509.00 156.9L509.70 156.15L510.40 156.9ZM509.90 156.9L510.60 154.01L511.30 156.9ZM510.80 156.9L511.50 155.18L512.20 156.9ZM511.70 156.9L512.40 155.00L513.10 156.9ZM512.60 156.9L513.30 155.21L514.00 156.9ZM513.50 156.9L514.20 156.33L514.90 156.9ZM514.40 156.9L515.10 155.64L515.80 156.9ZM515.30 156.9L516.00 156.04L516.70 156.9ZM516.20 156.9L516.90 154.60L517.60 156.9ZM517.10 156.9L517.80 155.90L518.50 156.9ZM518.00 156.9L518.70 156.12L519.40 156.9ZM518.90 156.9L519.60 156.56L520.30 156.9ZM519.80 156.9L520.50 154.80L521.20 156.9ZM520.70 156.9L521.40 155.61L522.10 156.9ZM521.60 156.9L522.30 155.81L523.00 156.9ZM522.50 156.9L523.20 156.08L523.90 156.9ZM523.40 156.9L524.10 155.57L524.80 156.9ZM524.30 156.9L525.00 155.82L525.70 156.9ZM525.20 156.9L525.90 153.52L526.60 156.9ZM526.10 156.9L526.80 156.59L527.50 156.9ZM527.00 156.9L527.70 154.34L528.40 156.9ZM527.90 156.9L528.60 154.06L529.30 156.9ZM528.80 156.9L529.50 155.41L530.20 156.9ZM529.70 156.9L530.40 155.51L531.10 156.9ZM530.60 156.9L531.30 156.30L532.00 156.9ZM531.50 156.9L532.20 156.33L532.90 156.9ZM532.40 156.9L533.10 155.18L533.80 156.9ZM533.30 156.9L534.00 156.09L534.70 156.9ZM534.20 156.9L534.90 155.17L535.60 156.9ZM535.10 156.9L535.80 155.13L536.50 156.9ZM536.00 156.9L536.70 155.82L537.40 156.9ZM536.90 156.9L537.60 155.49L538.30 156.9ZM537.80 156.9L538.50 155.96L539.20 156.9ZM538.70 156.9L539.40 155.98L540.10 156.9ZM539.60 156.9L540.30 156.50L541.00 156.9ZM540.50 156.9L541.20 155.82L541.90 156.9ZM541.40 156.9L542.10 156.22L542.80 156.9ZM542.30 156.9L543.00 155.59L543.70 156.9ZM543.20 156.9L543.90 155.66L544.60 156.9ZM544.10 156.9L544.80 156.10L545.50 156.9ZM545.00 156.9L545.70 155.52L546.40 156.9ZM545.90 156.9L546.60 155.23L547.30 156.9ZM546.80 156.9L547.50 156.43L548.20 156.9ZM547.70 156.9L548.40 155.88L549.10 156.9ZM548.60 156.9L549.30 155.61L550.00 156.9ZM549.50 156.9L550.20 155.16L550.90 156.9ZM550.40 156.9L551.10 155.66L551.80 156.9ZM551.30 156.9L552.00 155.29L552.70 156.9ZM552.20 156.9L552.90 155.45L553.60 156.9ZM553.10 156.9L553.80 153.82L554.50 156.9ZM554.00 156.9L554.70 155.40L555.40 156.9ZM554.90 156.9L555.60 155.82L556.30 156.9ZM555.80 156.9L556.50 156.00L557.20 156.9ZM556.70 156.9L557.40 156.22L558.10 156.9ZM557.60 156.9L558.30 156.32L559.00 156.9ZM558.50 156.9L559.20 156.54L559.90 156.9ZM559.40 156.9L560.10 156.35L560.80 156.9ZM560.30 156.9L561.00 156.57L561.70 156.9ZM561.20 156.9L561.90 155.19L562.60 156.9ZM562.10 156.9L562.80 155.38L563.50 156.9ZM563.00 156.9L563.70 154.44L564.40 156.9ZM563.90 156.9L564.60 156.54L565.30 156.9ZM564.80 156.9L565.50 155.16L566.20 156.9ZM565.70 156.9L566.40 156.52L567.10 156.9ZM566.60 156.9L567.30 154.81L568.00 156.9ZM567.50 156.9L568.20 155.40L568.90 156.9ZM568.40 156.9L569.10 155.31L569.80 156.9ZM569.30 156.9L570.00 156.41L570.70 156.9ZM570.20 156.9L570.90 154.03L571.60 156.9ZM571.10 156.9L571.80 155.64L572.50 156.9ZM572.00 156.9L572.70 156.46L573.40 156.9ZM572.90 156.9L573.60 155.65L574.30 156.9ZM573.80 156.9L574.50 155.39L575.20 156.9ZM574.70 156.9L575.40 155.52L576.10 156.9ZM575.60 156.9L576.30 154.73L577.00 156.9ZM576.50 156.9L577.20 155.62L577.90 156.9ZM577.40 156.9L578.10 155.75L578.80 156.9ZM578.30 156.9L579.00 156.03L579.70 156.9ZM579.20 156.9L579.90 155.92L580.60 156.9ZM580.10 156.9L580.80 156.45L581.50 156.9ZM581.00 156.9L581.70 156.40L582.40 156.9ZM581.90 156.9L582.60 155.35L583.30 156.9ZM582.80 156.9L583.50 156.04L584.20 156.9ZM583.70 156.9L584.40 156.28L585.10 156.9ZM584.60 156.9L585.30 156.11L586.00 156.9ZM585.50 156.9L586.20 156.48L586.90 156.9ZM586.40 156.9L587.10 155.73L587.80 156.9ZM587.30 156.9L588.00 156.48L588.70 156.9ZM588.20 156.9L588.90 155.73L589.60 156.9ZM589.10 156.9L589.80 156.48L590.50 156.9ZM590.00 156.9L590.70 156.20L591.40 156.9ZM590.90 156.9L591.60 155.35L592.30 156.9ZM591.80 156.9L592.50 156.32L593.20 156.9ZM592.70 156.9L593.40 155.27L594.10 156.9ZM593.60 156.9L594.30 154.09L595.00 156.9ZM594.50 156.9L595.20 155.44L595.90 156.9ZM595.40 156.9L596.10 155.59L596.80 156.9ZM596.30 156.9L597.00 156.50L597.70 156.9ZM597.20 156.9L597.90 154.62L598.60 156.9ZM598.10 156.9L598.80 155.80L599.50 156.9ZM599.00 156.9L599.70 154.52L600.40 156.9ZM599.90 156.9L600.60 155.40L601.30 156.9ZM600.80 156.9L601.50 155.52L602.20 156.9ZM601.70 156.9L602.40 155.19L603.10 156.9ZM602.60 156.9L603.30 155.43L604.00 156.9ZM603.50 156.9L604.20 154.15L604.90 156.9ZM604.40 156.9L605.10 155.46L605.80 156.9ZM605.30 156.9L606.00 155.93L606.70 156.9ZM606.20 156.9L606.90 154.37L607.60 156.9ZM607.10 156.9L607.80 155.79L608.50 156.9ZM608.00 156.9L608.70 155.78L609.40 156.9ZM608.90 156.9L609.60 156.03L610.30 156.9ZM609.80 156.9L610.50 155.22L611.20 156.9ZM610.70 156.9L611.40 156.39L612.10 156.9ZM611.60 156.9L612.30 153.68L613.00 156.9ZM612.50 156.9L613.20 155.36L613.90 156.9ZM613.40 156.9L614.10 154.63L614.80 156.9ZM614.30 156.9L615.00 155.18L615.70 156.9ZM615.20 156.9L615.90 155.93L616.60 156.9ZM616.10 156.9L616.80 156.31L617.50 156.9ZM617.00 156.9L617.70 156.27L618.40 156.9ZM617.90 156.9L618.60 156.50L619.30 156.9ZM618.80 156.9L619.50 156.55L620.20 156.9ZM619.70 156.9L620.40 156.13L621.10 156.9ZM620.60 156.9L621.30 154.12L622.00 156.9ZM621.50 156.9L622.20 155.27L622.90 156.9ZM622.40 156.9L623.10 156.23L623.80 156.9ZM623.30 156.9L624.00 155.72L624.70 156.9ZM624.20 156.9L624.90 155.12L625.60 156.9ZM625.10 156.9L625.80 155.31L626.50 156.9ZM626.00 156.9L626.70 156.32L627.40 156.9ZM626.90 156.9L627.60 156.20L628.30 156.9ZM627.80 156.9L628.50 156.18L629.20 156.9ZM628.70 156.9L629.40 155.66L630.10 156.9ZM629.60 156.9L630.30 156.01L631.00 156.9ZM630.50 156.9L631.20 154.61L631.90 156.9ZM631.40 156.9L632.10 156.43L632.80 156.9ZM632.30 156.9L633.00 155.19L633.70 156.9ZM633.20 156.9L633.90 155.15L634.60 156.9ZM634.10 156.9L634.80 155.84L635.50 156.9ZM635.00 156.9L635.70 154.32L636.40 156.9ZM635.90 156.9L636.60 154.89L637.30 156.9ZM636.80 156.9L637.50 155.90L638.20 156.9ZM637.70 156.9L638.40 155.46L639.10 156.9ZM638.60 156.9L639.30 155.46L640.00 156.9ZM639.50 156.9L640.20 155.33L640.90 156.9ZM640.40 156.9L641.10 155.50L641.80 156.9ZM641.30 156.9L642.00 156.35L642.70 156.9ZM642.20 156.9L642.90 156.35L643.60 156.9ZM643.10 156.9L643.80 155.71L644.50 156.9ZM644.00 156.9L644.70 154.03L645.40 156.9ZM644.90 156.9L645.60 156.46L646.30 156.9ZM645.80 156.9L646.50 155.74L647.20 156.9ZM646.70 156.9L647.40 156.18L648.10 156.9ZM647.60 156.9L648.30 155.55L649.00 156.9ZM648.50 156.9L649.20 155.17L649.90 156.9ZM649.40 156.9L650.10 155.98L650.80 156.9ZM650.30 156.9L651.00 155.35L651.70 156.9ZM651.20 156.9L651.90 155.60L652.60 156.9ZM652.10 156.9L652.80 155.77L653.50 156.9ZM653.00 156.9L653.70 156.50L654.40 156.9ZM653.90 156.9L654.60 156.58L655.30 156.9ZM654.80 156.9L655.50 155.90L656.20 156.9ZM655.70 156.9L656.40 155.52L657.10 156.9ZM656.60 156.9L657.30 154.27L658.00 156.9ZM657.50 156.9L658.20 155.76L658.90 156.9ZM658.40 156.9L659.10 156.54L659.80 156.9ZM659.30 156.9L660.00 155.65L660.70 156.9ZM660.20 156.9L660.90 156.49L661.60 156.9ZM661.10 156.9L661.80 154.62L662.50 156.9ZM662.00 156.9L662.70 156.30L663.40 156.9ZM662.90 156.9L663.60 155.47L664.30 156.9ZM663.80 156.9L664.50 155.77L665.20 156.9ZM664.70 156.9L665.40 155.90L666.10 156.9ZM665.60 156.9L666.30 155.37L667.00 156.9ZM666.50 156.9L667.20 155.64L667.90 156.9ZM667.40 156.9L668.10 155.76L668.80 156.9ZM668.30 156.9L669.00 155.48L669.70 156.9ZM669.20 156.9L669.90 155.90L670.60 156.9ZM670.10 156.9L670.80 155.84L671.50 156.9ZM671.00 156.9L671.70 155.36L672.40 156.9ZM671.90 156.9L672.60 155.33L673.30 156.9ZM672.80 156.9L673.50 155.93L674.20 156.9ZM673.70 156.9L674.40 156.55L675.10 156.9ZM674.60 156.9L675.30 155.31L676.00 156.9ZM675.50 156.9L676.20 155.76L676.90 156.9Z" fill="#fff" fill-opacity="0.75"/>
<path d="M479.40 10.3L480.00 11.41L480.60 10.3ZM480.30 10.3L480.90 11.30L481.50 10.3ZM481.20 10.3L481.80 11.10L482.40 10.3ZM482.10 10.3L482.70 10.82L483.30 10.3ZM483.00 10.3L483.60 10.95L484.20 10.3ZM483.90 10.3L484.50 10.95L485.10 10.3ZM484.80 10.3L485.40 11.12L486.00 10.3ZM485.70 10.3L486.30 11.80L486.90 10.3ZM486.60 10.3L487.20 11.02L487.80 10.3ZM487.50 10.3L488.10 11.14L488.70 10.3ZM488.40 10.3L489.00 11.05L489.60 10.3ZM489.30 10.3L489.90 11.30L490.50 10.3ZM490.20 10.3L490.80 11.74L491.40 10.3ZM491.10 10.3L491.70 11.67L492.30 10.3ZM492.00 10.3L492.60 11.05L493.20 10.3ZM492.90 10.3L493.50 10.92L494.10 10.3ZM493.80 10.3L494.40 11.66L495.00 10.3ZM494.70 10.3L495.30 11.19L495.90 10.3ZM495.60 10.3L496.20 11.42L496.80 10.3ZM496.50 10.3L497.10 10.69L497.70 10.3ZM497.40 10.3L498.00 11.64L498.60 10.3ZM498.30 10.3L498.90 10.98L499.50 10.3ZM499.20 10.3L499.80 11.19L500.40 10.3ZM500.10 10.3L500.70 10.84L501.30 10.3ZM501.00 10.3L501.60 11.10L502.20 10.3ZM501.90 10.3L502.50 11.59L503.10 10.3ZM502.80 10.3L503.40 11.59L504.00 10.3ZM503.70 10.3L504.30 11.17L504.90 10.3ZM504.60 10.3L505.20 11.52L505.80 10.3ZM505.50 10.3L506.10 11.15L506.70 10.3ZM506.40 10.3L507.00 11.05L507.60 10.3ZM507.30 10.3L507.90 11.26L508.50 10.3ZM508.20 10.3L508.80 10.84L509.40 10.3ZM509.10 10.3L509.70 10.98L510.30 10.3ZM510.00 10.3L510.60 11.45L511.20 10.3ZM510.90 10.3L511.50 11.52L512.10 10.3ZM511.80 10.3L512.40 10.67L513.00 10.3ZM512.70 10.3L513.30 11.48L513.90 10.3ZM513.60 10.3L514.20 11.58L514.80 10.3ZM514.50 10.3L515.10 11.13L515.70 10.3ZM515.40 10.3L516.00 10.67L516.60 10.3ZM516.30 10.3L516.90 11.42L517.50 10.3ZM517.20 10.3L517.80 10.90L518.40 10.3ZM518.10 10.3L518.70 11.37L519.30 10.3ZM519.00 10.3L519.60 11.05L520.20 10.3ZM519.90 10.3L520.50 11.36L521.10 10.3ZM520.80 10.3L521.40 10.91L522.00 10.3ZM521.70 10.3L522.30 11.17L522.90 10.3ZM522.60 10.3L523.20 11.23L523.80 10.3ZM523.50 10.3L524.10 11.36L524.70 10.3ZM524.40 10.3L525.00 10.84L525.60 10.3ZM525.30 10.3L525.90 11.75L526.50 10.3ZM526.20 10.3L526.80 10.95L527.40 10.3ZM527.10 10.3L527.70 10.97L528.30 10.3ZM528.00 10.3L528.60 10.91L529.20 10.3ZM528.90 10.3L529.50 10.68L530.10 10.3ZM529.80 10.3L530.40 11.11L531.00 10.3ZM530.70 10.3L531.30 11.53L531.90 10.3ZM531.60 10.3L532.20 11.45L532.80 10.3ZM532.50 10.3L533.10 10.83L533.70 10.3ZM533.40 10.3L534.00 10.76L534.60 10.3ZM534.30 10.3L534.90 10.99L535.50 10.3ZM535.20 10.3L535.80 11.52L536.40 10.3ZM536.10 10.3L536.70 11.19L537.30 10.3ZM537.00 10.3L537.60 11.71L538.20 10.3ZM537.90 10.3L538.50 11.39L539.10 10.3ZM538.80 10.3L539.40 11.35L540.00 10.3ZM539.70 10.3L540.30 11.52L540.90 10.3ZM540.60 10.3L541.20 11.50L541.80 10.3ZM541.50 10.3L542.10 11.01L542.70 10.3ZM542.40 10.3L543.00 10.91L543.60 10.3ZM543.30 10.3L543.90 11.13L544.50 10.3ZM544.20 10.3L544.80 11.19L545.40 10.3ZM545.10 10.3L545.70 10.77L546.30 10.3ZM546.00 10.3L546.60 11.13L547.20 10.3ZM546.90 10.3L547.50 11.37L548.10 10.3ZM547.80 10.3L548.40 10.76L549.00 10.3ZM548.70 10.3L549.30 10.77L549.90 10.3ZM549.60 10.3L550.20 10.81L550.80 10.3ZM550.50 10.3L551.10 10.94L551.70 10.3ZM551.40 10.3L552.00 11.75L552.60 10.3ZM552.30 10.3L552.90 10.63L553.50 10.3ZM553.20 10.3L553.80 10.82L554.40 10.3ZM554.10 10.3L554.70 10.80L555.30 10.3ZM555.00 10.3L555.60 11.17L556.20 10.3ZM555.90 10.3L556.50 10.62L557.10 10.3ZM556.80 10.3L557.40 11.15L558.00 10.3ZM557.70 10.3L558.30 10.80L558.90 10.3ZM558.60 10.3L559.20 10.92L559.80 10.3ZM559.50 10.3L560.10 12.31L560.70 10.3ZM560.40 10.3L561.00 11.15L561.60 10.3ZM561.30 10.3L561.90 11.97L562.50 10.3ZM562.20 10.3L562.80 11.57L563.40 10.3ZM563.10 10.3L563.70 11.59L564.30 10.3ZM564.00 10.3L564.60 12.35L565.20 10.3ZM564.90 10.3L565.50 11.11L566.10 10.3ZM565.80 10.3L566.40 12.56L567.00 10.3ZM566.70 10.3L567.30 12.50L567.90 10.3ZM567.60 10.3L568.20 12.07L568.80 10.3ZM568.50 10.3L569.10 10.89L569.70 10.3ZM569.40 10.3L570.00 12.06L570.60 10.3ZM570.30 10.3L570.90 11.94L571.50 10.3ZM571.20 10.3L571.80 12.27L572.40 10.3ZM572.10 10.3L572.70 11.21L573.30 10.3ZM573.00 10.3L573.60 12.61L574.20 10.3ZM573.90 10.3L574.50 12.48L575.10 10.3ZM574.80 10.3L575.40 11.02L576.00 10.3ZM575.70 10.3L576.30 11.40L576.90 10.3ZM576.60 10.3L577.20 10.86L577.80 10.3ZM577.50 10.3L578.10 12.38L578.70 10.3ZM578.40 10.3L579.00 12.54L579.60 10.3ZM579.30 10.3L579.90 12.68L580.50 10.3ZM580.20 10.3L580.80 11.96L581.40 10.3ZM581.10 10.3L581.70 12.07L582.30 10.3ZM582.00 10.3L582.60 12.09L583.20 10.3ZM582.90 10.3L583.50 11.88L584.10 10.3ZM583.80 10.3L584.40 12.61L585.00 10.3ZM584.70 10.3L585.30 11.95L585.90 10.3ZM585.60 10.3L586.20 11.44L586.80 10.3ZM586.50 10.3L587.10 11.77L587.70 10.3ZM587.40 10.3L588.00 10.84L588.60 10.3ZM588.30 10.3L588.90 12.18L589.50 10.3ZM589.20 10.3L589.80 12.12L590.40 10.3ZM590.10 10.3L590.70 11.60L591.30 10.3ZM591.00 10.3L591.60 12.42L592.20 10.3ZM591.90 10.3L592.50 12.24L593.10 10.3ZM592.80 10.3L593.40 11.44L594.00 10.3ZM593.70 10.3L594.30 10.95L594.90 10.3ZM594.60 10.3L595.20 11.05L595.80 10.3ZM595.50 10.3L596.10 11.15L596.70 10.3ZM596.40 10.3L597.00 11.38L597.60 10.3ZM597.30 10.3L597.90 11.65L598.50 10.3ZM598.20 10.3L598.80 12.56L599.40 10.3ZM599.10 10.3L599.70 11.33L600.30 10.3ZM600.00 10.3L600.60 12.51L601.20 10.3ZM600.90 10.3L601.50 12.09L602.10 10.3ZM601.80 10.3L602.40 12.42L603.00 10.3ZM602.70 10.3L603.30 11.57L603.90 10.3ZM603.60 10.3L604.20 10.81L604.80 10.3ZM604.50 10.3L605.10 12.30L605.70 10.3ZM605.40 10.3L606.00 11.27L606.60 10.3ZM606.30 10.3L606.90 11.07L607.50 10.3ZM607.20 10.3L607.80 12.32L608.40 10.3ZM608.10 10.3L608.70 12.10L609.30 10.3ZM609.00 10.3L609.60 11.20L610.20 10.3ZM609.90 10.3L610.50 11.31L611.10 10.3ZM610.80 10.3L611.40 12.58L612.00 10.3ZM611.70 10.3L612.30 11.31L612.90 10.3ZM612.60 10.3L613.20 12.13L613.80 10.3ZM613.50 10.3L614.10 11.05L614.70 10.3ZM614.40 10.3L615.00 12.35L615.60 10.3ZM615.30 10.3L615.90 11.02L616.50 10.3ZM616.20 10.3L616.80 11.78L617.40 10.3ZM617.10 10.3L617.70 10.87L618.30 10.3ZM618.00 10.3L618.60 11.85L619.20 10.3ZM618.90 10.3L619.50 12.41L620.10 10.3ZM619.80 10.3L620.40 10.96L621.00 10.3ZM620.70 10.3L621.30 11.32L621.90 10.3ZM621.60 10.3L622.20 12.25L622.80 10.3ZM622.50 10.3L623.10 11.96L623.70 10.3ZM623.40 10.3L624.00 11.39L624.60 10.3ZM624.30 10.3L624.90 11.99L625.50 10.3ZM625.20 10.3L625.80 11.66L626.40 10.3ZM626.10 10.3L626.70 12.44L627.30 10.3ZM627.00 10.3L627.60 11.36L628.20 10.3ZM627.90 10.3L628.50 12.24L629.10 10.3ZM628.80 10.3L629.40 12.01L630.00 10.3ZM629.70 10.3L630.30 12.21L630.90 10.3ZM630.60 10.3L631.20 11.52L631.80 10.3ZM631.50 10.3L632.10 12.18L632.70 10.3ZM632.40 10.3L633.00 12.13L633.60 10.3ZM633.30 10.3L633.90 11.54L634.50 10.3ZM634.20 10.3L634.80 10.85L635.40 10.3ZM635.10 10.3L635.70 12.63L636.30 10.3ZM636.00 10.3L636.60 12.16L637.20 10.3ZM636.90 10.3L637.50 11.19L638.10 10.3ZM637.80 10.3L638.40 12.19L639.00 10.3ZM638.70 10.3L639.30 11.33L639.90 10.3ZM639.60 10.3L640.20 11.69L640.80 10.3ZM640.50 10.3L641.10 12.43L641.70 10.3ZM641.40 10.3L642.00 11.65L642.60 10.3ZM642.30 10.3L642.90 11.35L643.50 10.3ZM643.20 10.3L643.80 11.38L644.40 10.3ZM644.10 10.3L644.70 10.95L645.30 10.3ZM645.00 10.3L645.60 11.22L646.20 10.3ZM645.90 10.3L646.50 11.32L647.10 10.3ZM646.80 10.3L647.40 11.13L648.00 10.3ZM647.70 10.3L648.30 10.92L648.90 10.3ZM648.60 10.3L649.20 11.68L649.80 10.3ZM649.50 10.3L650.10 11.21L650.70 10.3ZM650.40 10.3L651.00 12.20L651.60 10.3ZM651.30 10.3L651.90 12.55L652.50 10.3ZM652.20 10.3L652.80 11.32L653.40 10.3ZM653.10 10.3L653.70 11.89L654.30 10.3ZM654.00 10.3L654.60 11.76L655.20 10.3ZM654.90 10.3L655.50 10.94L656.10 10.3ZM655.80 10.3L656.40 11.04L657.00 10.3ZM656.70 10.3L657.30 12.48L657.90 10.3ZM657.60 10.3L658.20 11.70L658.80 10.3ZM658.50 10.3L659.10 12.33L659.70 10.3ZM659.40 10.3L660.00 10.93L660.60 10.3ZM660.30 10.3L660.90 11.93L661.50 10.3ZM661.20 10.3L661.80 12.44L662.40 10.3ZM662.10 10.3L662.70 12.45L663.30 10.3ZM663.00 10.3L663.60 10.81L664.20 10.3ZM663.90 10.3L664.50 11.79L665.10 10.3ZM664.80 10.3L665.40 11.50L666.00 10.3ZM665.70 10.3L666.30 12.24L666.90 10.3ZM666.60 10.3L667.20 10.94L667.80 10.3ZM667.50 10.3L668.10 11.30L668.70 10.3ZM668.40 10.3L669.00 12.34L669.60 10.3ZM669.30 10.3L669.90 11.69L670.50 10.3ZM670.20 10.3L670.80 11.66L671.40 10.3ZM671.10 10.3L671.70 12.64L672.30 10.3ZM672.00 10.3L672.60 11.41L673.20 10.3ZM672.90 10.3L673.50 10.88L674.10 10.3ZM673.80 10.3L674.40 11.55L675.00 10.3ZM674.70 10.3L675.30 11.09L675.90 10.3ZM675.60 10.3L676.20 10.96L676.80 10.3ZM607.20 10.3L607.50 15.1L607.90 15.1L608.20 10.3ZM615.20 10.3L615.50 17.8L615.90 17.8L616.20 10.3ZM629.50 10.3L629.80 15.9L630.20 15.9L630.50 10.3ZM636.70 10.3L637.00 15.9L637.40 15.9L637.70 10.3ZM591.50 10.3L591.80 13L592.20 13L592.50 10.3ZM597.50 10.3L597.80 12.8L598.20 12.8L598.50 10.3ZM619.50 10.3L619.80 13.5L620.20 13.5L620.50 10.3ZM644.50 10.3L644.80 13.2L645.20 13.2L645.50 10.3ZM652.50 10.3L652.80 13.0L653.20 13.0L653.50 10.3ZM659.50 10.3L659.80 13.4L660.20 13.4L660.50 10.3Z" fill="#fff" fill-opacity="0.8"/>
<path d="M16.82 312.10 16.92 312.10 17.02 312.10 17.11 312.10 17.21 312.10 17.31 312.10 17.41 312.10 17.50 312.10 17.60 312.10 17.70 311.90 17.79 309.94 17.89 308.16 17.99 306.53 18.08 305.03 18.18 303.64 18.28 302.34 18.37 301.13 18.47 299.99 18.57 298.91 18.66 297.89 18.76 296.92 18.86 296.00 18.95 295.12 19.05 294.28 19.15 293.47 19.25 292.70 19.34 291.96 19.44 291.24 19.54 290.55 19.63 289.89 19.73 289.25 19.83 288.62 19.92 288.02 20.02 287.44 20.12 286.87 20.21 286.32 20.31 285.79 20.41 285.27 20.50 284.76 20.60 284.27 20.70 283.79 20.79 283.32 20.89 282.86 20.99 282.41 21.08 281.97 21.18 281.55 21.28 281.13 21.38 280.72 21.47 280.32 21.57 279.93 21.67 279.54 21.76 279.17 21.86 278.80 21.96 278.43 22.05 278.08 22.15 277.73 22.25 277.39 22.34 277.05 22.44 276.72 22.54 276.39 22.63 276.07 22.73 275.76 22.83 275.45 22.92 275.14 23.02 274.84 23.12 274.55 23.22 274.26 23.31 273.97 23.41 273.69 23.51 273.41 23.60 273.14 23.70 272.87 23.80 272.60 23.89 272.34 23.99 272.08 24.09 271.82 24.18 271.57 24.28 271.32 24.38 271.07 24.47 270.83 24.57 270.59 24.67 270.36 24.76 270.12 24.86 269.89 24.96 269.66 25.06 269.44 25.15 269.21 25.25 268.99 25.35 268.78 25.44 268.56 25.54 268.35 25.64 268.14 25.73 267.93 25.83 267.72 25.93 267.52 26.02 267.32 26.12 267.12 26.22 266.92 26.31 266.72 26.41 266.53 26.51 266.34 26.60 266.15 26.70 265.96 26.80 265.77 26.90 265.59 26.99 265.41 27.09 265.23 27.19 265.05 27.28 264.87 27.38 264.69 27.48 264.52 27.57 264.35 27.67 264.18 27.77 264.01 27.86 263.84 27.96 263.67 28.06 263.51 28.15 263.34 28.25 263.18 28.35 263.02 28.44 262.86 28.54 262.70 28.64 262.54 28.74 262.39 28.83 262.23 28.93 262.08 29.03 261.93 29.12 261.78 29.22 261.63 29.32 261.48 29.41 261.33 29.51 261.19 29.61 261.04 29.70 260.90 29.80 260.75 29.90 260.61 29.99 260.47 30.09 260.33 30.19 260.19 30.28 260.05 30.38 259.92 30.48 259.78 30.57 259.65 30.67 259.51 30.77 259.38 30.87 259.25 30.96 259.12 31.06 258.99 31.16 258.86 31.25 258.73 31.35 258.60 31.45 258.47 31.54 258.35 31.64 258.22 31.74 258.10 31.83 257.98 31.93 257.85 32.03 257.73 32.12 257.61 32.22 257.49 32.32 257.37 32.41 257.25 32.51 257.13 32.61 257.01 32.71 256.90 32.80 256.78 32.90 256.67 33.00 256.55 33.09 256.44 33.19 256.32 33.29 256.21 33.38 256.10 33.48 255.99 33.58 255.88 33.67 255.77 33.77 255.66 33.87 255.55 33.96 255.44 34.06 255.33 34.16 255.23 34.25 255.12 34.35 255.01 34.45 254.91 34.55 254.80 34.64 254.70 34.74 254.60 34.84 254.49 34.93 254.39 35.03 254.29 35.13 254.19 35.22 254.09 35.32 253.99 35.42 253.89 35.51 253.79 35.61 253.69 35.71 253.59 35.80 253.49 35.90 253.40 36.00 253.30 36.09 253.20 36.19 253.11 36.29 253.01 36.39 252.92 36.48 252.82 36.58 252.73 36.68 252.64 36.77 252.54 36.87 252.45 36.97 252.36 37.06 252.27 37.16 252.18 37.26 252.09 37.35 252.00 37.45 251.91 37.55 251.82 37.64 251.73 37.74 251.64 37.84 251.55 37.93 251.46 38.03 251.38 38.13 251.29 38.23 251.20 38.32 251.12 38.42 251.03 38.52 250.94 38.61 250.86 38.71 250.77 38.81 250.69 38.90 250.61 39.00 250.52 39.10 250.44 39.19 250.36 39.29 250.27 39.39 250.19 39.48 250.11 39.58 250.03 39.68 249.95 39.77 249.87 39.87 249.79 39.97 249.71 40.06 249.63 40.16 249.55 40.26 249.47 40.36 249.39 40.45 249.31 40.55 249.23 40.65 249.15 40.74 249.08 40.84 249.00 40.94 248.92 41.03 248.85 41.13 248.77 41.23 248.69 41.32 248.62 41.42 248.54 41.52 248.47 41.61 248.39 41.71 248.32 41.81 248.25 41.90 248.17 42.00 248.10 42.10 248.02 42.20 247.95 42.29 247.88 42.39 247.81 42.49 247.73 42.58 247.66 42.68 247.59 42.78 247.52 42.87 247.45 42.97 247.38 43.07 247.31 43.16 247.24 43.26 247.17 43.36 247.10 43.45 247.03 43.55 246.96 43.65 246.89 43.74 246.82 43.84 246.75 43.94 246.68 44.04 246.61 44.13 246.55 44.23 246.48 44.33 246.41 44.42 246.34 44.52 246.28 44.62 246.21 44.71 246.14 44.81 246.08 44.91 246.01 45.00 245.95 45.10 245.88 45.20 245.81 45.29 245.75 45.39 245.68 45.49 245.62 45.58 245.56 45.68 245.49 45.78 245.43 45.88 245.36 45.97 245.30 46.07 245.24 46.17 245.17 46.26 245.11 46.36 245.05 46.46 244.99 46.55 244.92 46.65 244.86 46.75 244.80 46.84 244.74 46.94 244.68 47.04 244.61 47.13 244.55 47.23 244.49 47.33 244.43 47.42 244.37 47.52 244.31 47.62 244.25 47.71 244.19 47.81 244.13 47.91 244.07 48.01 244.01 48.10 243.95 48.20 243.89 48.30 243.83 48.39 243.78 48.49 243.72 48.59 243.66 48.68 243.60 48.78 243.54 48.88 243.49 48.97 243.43 49.07 243.37 49.17 243.31 49.26 243.26 49.36 243.20 49.46 243.14 49.55 243.09 49.65 243.03 49.75 242.97 49.85 242.92 49.94 242.86 50.04 242.80 50.14 242.75 50.23 242.69 50.33 242.64 50.43 242.58 50.52 242.53 50.62 242.47 50.72 242.42 50.81 242.36 50.91 242.31 51.01 242.26 51.10 242.20 51.20 242.15 51.30 242.09 51.39 242.04 51.49 241.99 51.59 241.93 51.69 241.88 51.78 241.83 51.88 241.77 51.98 241.72 52.07 241.67 52.17 241.62 52.27 241.56 52.36 241.51 52.46 241.46 52.56 241.41 52.65 241.36 52.75 241.31 52.85 241.25 52.94 241.20 53.04 241.15 53.14 241.10 53.23 241.05 53.33 241.00 53.43 240.95 53.53 240.90 53.62 240.85 53.72 240.80 53.82 240.75 53.91 240.70 54.01 240.65 54.11 240.60 54.20 240.55 54.30 240.50 54.40 240.45 54.49 240.40 54.59 240.35 54.69 240.30 54.78 240.25 54.88 240.20 54.98 240.16 55.07 240.11 55.17 240.06 55.27 240.01 55.37 239.96 55.46 239.92 55.56 239.87 55.66 239.82 55.75 239.77 55.85 239.72 55.95 239.68 56.04 239.63 56.14 239.58 56.24 239.54 56.33 239.49 56.43 239.44 56.53 239.40 56.62 239.35 56.72 239.30 56.82 239.26 56.91 239.21 57.01 239.16 57.11 239.12 57.20 239.07 57.30 239.03 57.40 238.98 57.50 238.94 57.59 238.89 57.69 238.84 57.79 238.80 57.88 238.75 57.98 238.71 58.08 238.66 58.17 238.62 58.27 238.57 58.37 238.53 58.46 238.49 58.56 238.44 58.66 238.40 58.75 238.35 58.85 238.31 58.95 238.26 59.04 238.22 59.14 238.18 59.24 238.13 59.34 238.09 59.43 238.05 59.53 238.00 59.63 237.96 59.72 237.92 59.82 237.87 59.92 237.83 60.01 237.79 60.11 237.74 60.21 237.70 60.30 237.66 60.40 237.62 60.50 237.57 60.59 237.53 60.69 237.49 60.79 237.45 60.88 237.41 60.98 237.36 61.08 237.32 61.18 237.28 61.27 237.24 61.37 237.20 61.47 237.16 61.56 237.11 61.66 237.07 61.76 237.03 61.85 236.99 61.95 236.95 62.05 236.91 62.14 236.87 62.24 236.83 62.34 236.79 62.43 236.75 62.53 236.70 62.63 236.66 62.72 236.62 62.82 236.58 62.92 236.54 63.02 236.50 63.11 236.46 63.21 236.42 63.31 236.38 63.40 236.34 63.50 236.30 63.60 236.26 63.69 236.22 63.79 236.19 63.89 236.15 63.98 236.11 64.08 236.07 64.18 236.03 64.27 235.99 64.37 235.95 64.47 235.91 64.56 235.87 64.66 235.84 64.76 235.80 64.86 235.76 64.95 235.73 65.05 235.70 65.15 235.68 65.20 235.68 65.24 235.68 65.34 235.69 65.44 235.72 65.53 235.76 65.63 235.79 65.73 235.83 65.82 235.87 65.92 235.91 66.02 235.95 66.11 235.98 66.21 236.02 66.31 236.06 66.40 236.10 66.50 236.14 66.60 236.18 66.69 236.22 66.79 236.26 66.89 236.30 66.99 236.34 67.08 236.38 67.18 236.42 67.28 236.46 67.37 236.50 67.47 236.54 67.57 236.58 67.66 236.62 67.76 236.66 67.86 236.70 67.95 236.74 68.05 236.78 68.15 236.82 68.24 236.86 68.34 236.90 68.44 236.94 68.53 236.98 68.63 237.03 68.73 237.07 68.83 237.11 68.92 237.15 69.02 237.19 69.12 237.23 69.21 237.27 69.31 237.32 69.41 237.36 69.50 237.40 69.60 237.44 69.70 237.48 69.79 237.53 69.89 237.57 69.99 237.61 70.08 237.65 70.18 237.70 70.28 237.74 70.37 237.78 70.47 237.82 70.57 237.87 70.67 237.91 70.76 237.95 70.86 238.00 70.96 238.04 71.05 238.08 71.15 238.13 71.25 238.17 71.34 238.22 71.44 238.26 71.54 238.30 71.63 238.35 71.73 238.39 71.83 238.44 71.92 238.48 72.02 238.52 72.12 238.57 72.21 238.61 72.31 238.66 72.41 238.70 72.51 238.75 72.60 238.79 72.70 238.84 72.80 238.88 72.89 238.93 72.99 238.97 73.09 239.02 73.18 239.07 73.28 239.11 73.38 239.16 73.47 239.20 73.57 239.25 73.67 239.30 73.76 239.34 73.86 239.39 73.96 239.44 74.05 239.48 74.15 239.53 74.25 239.58 74.34 239.62 74.44 239.67 74.54 239.72 74.64 239.77 74.73 239.81 74.83 239.86 74.93 239.91 75.02 239.96 75.12 240.01 75.22 240.05 75.31 240.10 75.41 240.15 75.51 240.20 75.60 240.25 75.70 240.30 75.80 240.35 75.89 240.39 75.99 240.44 76.09 240.49 76.18 240.54 76.28 240.59 76.38 240.64 76.48 240.69 76.57 240.74 76.67 240.79 76.77 240.84 76.86 240.89 76.96 240.94 77.06 240.99 77.15 241.04 77.25 241.09 77.35 241.15 77.44 241.20 77.54 241.25 77.64 241.30 77.73 241.35 77.83 241.40 77.93 241.45 78.02 241.51 78.12 241.56 78.22 241.61 78.32 241.66 78.41 241.72 78.51 241.77 78.61 241.82 78.70 241.87 78.80 241.93 78.90 241.98 78.99 242.03 79.09 242.09 79.19 242.14 79.28 242.19 79.38 242.25 79.48 242.30 79.57 242.36 79.67 242.41 79.77 242.47 79.86 242.52 79.96 242.58 80.06 242.63 80.16 242.69 80.25 242.74 80.35 242.80 80.45 242.85 80.54 242.91 80.64 242.97 80.74 243.02 80.83 243.08 80.93 243.13 81.03 243.19 81.12 243.25 81.22 243.31 81.32 243.36 81.41 243.42 81.51 243.48 81.61 243.54 81.70 243.59 81.80 243.65 81.90 243.71 82.00 243.77 82.09 243.83 82.19 243.89 82.29 243.95 82.38 244.00 82.48 244.06 82.58 244.12 82.67 244.18 82.77 244.24 82.87 244.30 82.96 244.36 83.06 244.42 83.16 244.48 83.25 244.55 83.35 244.61 83.45 244.67 83.54 244.73 83.64 244.79 83.74 244.85 83.83 244.92 83.93 244.98 84.03 245.04 84.13 245.10 84.22 245.17 84.32 245.23 84.42 245.29 84.51 245.36 84.61 245.42 84.71 245.48 84.80 245.55 84.90 245.61 85.00 245.68 85.09 245.74 85.19 245.81 85.29 245.87 85.38 245.94 85.48 246.00 85.58 246.07 85.67 246.14 85.77 246.20 85.87 246.27 85.97 246.34 86.06 246.40 86.16 246.47 86.26 246.54 86.35 246.61 86.45 246.67 86.55 246.74 86.64 246.81 86.74 246.88 86.84 246.95 86.93 247.02 87.03 247.09 87.13 247.16 87.22 247.23 87.32 247.30 87.42 247.37 87.51 247.44 87.61 247.51 87.71 247.58 87.81 247.65 87.90 247.72 88.00 247.80 88.10 247.87 88.19 247.94 88.29 248.02 88.39 248.09 88.48 248.16 88.58 248.24 88.68 248.31 88.77 248.38 88.87 248.46 88.97 248.53 89.06 248.61 89.16 248.69 89.26 248.76 89.35 248.84 89.45 248.91 89.55 248.99 89.65 249.07 89.74 249.15 89.84 249.22 89.94 249.30 90.03 249.38 90.13 249.46 90.23 249.54 90.32 249.62 90.42 249.70 90.52 249.78 90.61 249.86 90.71 249.94 90.81 250.02 90.90 250.10 91.00 250.18 91.10 250.26 91.19 250.35 91.29 250.43 91.39 250.51 91.49 250.60 91.58 250.68 91.68 250.76 91.78 250.85 91.87 250.93 91.97 251.02 92.07 251.10 92.16 251.19 92.26 251.28 92.36 251.36 92.45 251.45 92.55 251.54 92.65 251.63 92.74 251.72 92.84 251.81 92.94 251.89 93.03 251.98 93.13 252.07 93.23 252.17 93.32 252.26 93.42 252.35 93.52 252.44 93.62 252.53 93.71 252.63 93.81 252.72 93.91 252.81 94.00 252.91 94.10 253.00 94.20 253.10 94.29 253.19 94.39 253.29 94.49 253.38 94.58 253.48 94.68 253.58 94.78 253.68 94.87 253.78 94.97 253.88 95.07 253.98 95.16 254.08 95.26 254.18 95.36 254.28 95.46 254.38 95.55 254.48 95.65 254.58 95.75 254.69 95.84 254.79 95.94 254.90 96.04 255.00 96.13 255.11 96.23 255.21 96.33 255.32 96.42 255.43 96.52 255.54 96.62 255.64 96.71 255.75 96.81 255.86 96.91 255.97 97.00 256.09 97.10 256.20 97.20 256.31 97.30 256.42 97.39 256.54 97.49 256.65 97.59 256.77 97.68 256.88 97.78 257.00 97.88 257.12 97.97 257.24 98.07 257.35 98.17 257.47 98.26 257.59 98.36 257.72 98.46 257.84 98.55 257.96 98.65 258.08 98.75 258.21 98.84 258.33 98.94 258.46 99.04 258.59 99.14 258.71 99.23 258.84 99.33 258.97 99.43 259.10 99.52 259.23 99.62 259.36 99.72 259.50 99.81 259.63 99.91 259.77 100.01 259.90 100.10 260.04 100.20 260.18 100.30 260.31 100.39 260.45 100.49 260.59 100.59 260.74 100.68 260.88 100.78 261.02 100.88 261.17 100.97 261.31 101.07 261.46 101.17 261.61 101.27 261.76 101.36 261.91 101.46 262.06 101.56 262.21 101.65 262.37 101.75 262.52 101.85 262.68 101.94 262.84 102.04 263.00 102.14 263.16 102.23 263.32 102.33 263.49 102.43 263.65 102.52 263.82 102.62 263.99 102.72 264.15 102.81 264.33 102.91 264.50 103.01 264.67 103.11 264.85 103.20 265.02 103.30 265.20 103.40 265.38 103.49 265.57 103.59 265.75 103.69 265.94 103.78 266.12 103.88 266.31 103.98 266.51 104.07 266.70 104.17 266.89 104.27 267.09 104.36 267.29 104.46 267.49 104.56 267.70 104.65 267.90 104.75 268.11 104.85 268.32 104.95 268.53 105.04 268.75 105.14 268.97 105.24 269.19 105.33 269.41 105.43 269.63 105.53 269.86 105.62 270.09 105.72 270.33 105.82 270.56 105.91 270.80 106.01 271.04 106.11 271.29 106.20 271.54 106.30 271.79 106.40 272.05 106.49 272.30 106.59 272.57 106.69 272.83 106.79 273.10 106.88 273.38 106.98 273.65 107.08 273.94 107.17 274.22 107.27 274.51 107.37 274.81 107.46 275.11 107.56 275.41 107.66 275.72 107.75 276.03 107.85 276.35 107.95 276.68 108.04 277.01 108.14 277.34 108.24 277.69 108.33 278.03 108.43 278.39 108.53 278.75 108.63 279.12 108.72 279.50 108.82 279.88 108.92 280.27 109.01 280.67 109.11 281.08 109.21 281.49 109.30 281.92 109.40 282.36 109.50 282.80 109.59 283.26 109.69 283.73 109.79 284.21 109.88 284.70 109.98 285.20 110.08 285.72 110.17 286.25 110.27 286.80 110.37 287.37 110.46 287.95 110.56 288.55 110.66 289.17 110.76 289.81 110.85 290.47 110.95 291.16 111.05 291.87 111.14 292.61 111.24 293.38 111.34 294.18 111.43 295.01 111.53 295.89 111.63 296.80 111.72 297.76 111.82 298.78 111.92 299.85 112.01 300.98 112.11 302.19 112.21 303.47 112.30 304.85 112.40 306.34 112.50 307.95 112.60 309.71 112.69 311.64 112.79 312.10 112.89 312.10 112.98 312.10 113.08 312.10 113.18 312.10 113.27 312.10 113.37 312.10 113.47 312.10 113.56 312.10 113.60 312.10 113.66 312.10 113.76 312.10 113.85 312.10 113.95 312.10 114.05 312.10 114.14 312.10 114.24 312.10 114.34 312.10 114.44 312.10 114.53 311.14 114.63 309.25 114.73 307.53 114.82 305.95 114.92 304.50 115.02 303.14 115.11 301.88 115.21 300.69 115.31 299.57 115.40 298.52 115.50 297.52 115.60 296.57 115.69 295.66 115.79 294.80 115.89 293.97 115.98 293.18 116.08 292.42 116.18 291.69 116.28 290.98 116.37 290.30 116.47 289.65 116.57 289.01 116.66 288.40 116.76 287.80 116.86 287.22 116.95 286.66 117.05 286.12 117.15 285.59 117.24 285.08 117.34 284.57 117.44 284.08 117.53 283.61 117.63 283.14 117.73 282.69 117.82 282.25 117.92 281.81 118.02 281.39 118.11 280.97 118.21 280.57 118.31 280.17 118.41 279.78 118.50 279.40 118.60 279.03 118.70 278.66 118.79 278.30 118.89 277.95 118.99 277.60 119.08 277.26 119.18 276.92 119.28 276.60 119.37 276.27 119.47 275.95 119.57 275.64 119.66 275.33 119.76 275.03 119.86 274.73 119.95 274.44 120.05 274.15 120.15 273.86 120.25 273.58 120.34 273.31 120.44 273.03 120.54 272.77 120.63 272.50 120.73 272.24 120.83 271.98 120.92 271.73 121.02 271.48 121.12 271.23 121.21 270.98 121.31 270.74 121.41 270.50 121.50 270.27 121.60 270.03 121.70 269.80 121.79 269.58 121.89 269.35 121.99 269.13 122.09 268.91 122.18 268.69 122.28 268.48 122.38 268.27 122.47 268.06 122.57 267.85 122.67 267.64 122.76 267.44 122.86 267.24 122.96 267.04 123.05 266.84 123.15 266.65 123.25 266.46 123.34 266.27 123.44 266.08 123.54 265.89 123.63 265.70 123.73 265.52 123.83 265.34 123.93 265.16 124.02 264.98 124.12 264.80 124.22 264.63 124.31 264.45 124.41 264.28 124.51 264.11 124.60 263.94 124.70 263.78 124.80 263.61 124.89 263.44 124.99 263.28 125.09 263.12 125.18 262.96 125.28 262.80 125.38 262.64 125.47 262.49 125.57 262.33 125.67 262.18 125.77 262.02 125.86 261.87 125.96 261.72 126.06 261.57 126.15 261.42 126.25 261.28 126.35 261.13 126.44 260.99 126.54 260.84 126.64 260.70 126.73 260.56 126.83 260.42 126.93 260.28 127.02 260.14 127.12 260.00 127.22 259.87 127.31 259.73 127.41 259.60 127.51 259.46 127.60 259.33 127.70 259.20 127.80 259.07 127.90 258.94 127.99 258.81 128.09 258.68 128.19 258.55 128.28 258.43 128.38 258.30 128.48 258.18 128.57 258.05 128.67 257.93 128.77 257.81 128.86 257.68 128.96 257.56 129.06 257.44 129.15 257.32 129.25 257.21 129.35 257.09 129.44 256.97 129.54 256.85 129.64 256.74 129.74 256.62 129.83 256.51 129.93 256.39 130.03 256.28 130.12 256.17 130.22 256.06 130.32 255.95 130.41 255.84 130.51 255.73 130.61 255.62 130.70 255.51 130.80 255.40 130.90 255.29 130.99 255.19 131.09 255.08 131.19 254.97 131.28 254.87 131.38 254.77 131.48 254.66 131.58 254.56 131.67 254.46 131.77 254.35 131.87 254.25 131.96 254.15 132.06 254.05 132.16 253.95 132.25 253.85 132.35 253.75 132.45 253.65 132.54 253.56 132.64 253.46 132.74 253.36 132.83 253.26 132.93 253.17 133.03 253.07 133.12 252.98 133.22 252.88 133.32 252.79 133.42 252.70 133.51 252.60 133.61 252.51 133.71 252.42 133.80 252.33 133.90 252.23 134.00 252.14 134.09 252.05 134.19 251.96 134.29 251.87 134.38 251.78 134.48 251.69 134.58 251.61 134.67 251.52 134.77 251.43 134.87 251.34 134.96 251.26 135.06 251.17 135.16 251.08 135.26 251.00 135.35 250.91 135.45 250.83 135.55 250.74 135.64 250.66 135.74 250.57 135.84 250.49 135.93 250.41 136.03 250.33 136.13 250.24 136.22 250.16 136.32 250.08 136.42 250.00 136.51 249.92 136.61 249.84 136.71 249.76 136.80 249.68 136.90 249.60 137.00 249.52 137.09 249.44 137.19 249.36 137.29 249.28 137.39 249.20 137.48 249.13 137.58 249.05 137.68 248.97 137.77 248.89 137.87 248.82 137.97 248.74 138.06 248.67 138.16 248.59 138.26 248.52 138.35 248.44 138.45 248.37 138.55 248.29 138.64 248.22 138.74 248.14 138.84 248.07 138.93 248.00 139.03 247.92 139.13 247.85 139.23 247.78 139.32 247.71 139.42 247.63 139.52 247.56 139.61 247.49 139.71 247.42 139.81 247.35 139.90 247.28 140.00 247.21 140.10 247.14 140.19 247.07 140.29 247.00 140.39 246.93 140.48 246.86 140.58 246.79 140.68 246.72 140.77 246.66 140.87 246.59 140.97 246.52 141.07 246.45 141.16 246.39 141.26 246.32 141.36 246.25 141.45 246.19 141.55 246.12 141.65 246.05 141.74 245.99 141.84 245.92 141.94 245.86 142.03 245.79 142.13 245.73 142.23 245.66 142.32 245.60 142.42 245.53 142.52 245.47 142.61 245.40 142.71 245.34 142.81 245.28 142.91 245.21 143.00 245.15 143.10 245.09 143.20 245.02 143.29 244.96 143.39 244.90 143.49 244.84 143.58 244.78 143.68 244.71 143.78 244.65 143.87 244.59 143.97 244.53 144.07 244.47 144.16 244.41 144.26 244.35 144.36 244.29 144.45 244.23 144.55 244.17 144.65 244.11 144.74 244.05 144.84 243.99 144.94 243.93 145.04 243.87 145.13 243.81 145.23 243.75 145.33 243.70 145.42 243.64 145.52 243.58 145.62 243.52 145.71 243.46 145.81 243.41 145.91 243.35 146.00 243.29 146.10 243.23 146.20 243.18 146.29 243.12 146.39 243.06 146.49 243.01 146.58 242.95 146.68 242.90 146.78 242.84 146.88 242.78 146.97 242.73 147.07 242.67 147.17 242.62 147.26 242.56 147.36 242.51 147.46 242.45 147.55 242.40 147.65 242.34 147.75 242.29 147.84 242.24 147.94 242.18 148.04 242.13 148.13 242.07 148.23 242.02 148.33 241.97 148.42 241.91 148.52 241.86 148.62 241.81 148.72 241.75 148.81 241.70 148.91 241.65 149.01 241.60 149.10 241.55 149.20 241.49 149.30 241.44 149.39 241.39 149.49 241.34 149.59 241.29 149.68 241.23 149.78 241.18 149.88 241.13 149.97 241.08 150.07 241.03 150.17 240.98 150.26 240.93 150.36 240.88 150.46 240.83 150.56 240.78 150.65 240.73 150.75 240.68 150.85 240.63 150.94 240.58 151.04 240.53 151.14 240.48 151.23 240.43 151.33 240.38 151.43 240.33 151.52 240.28 151.62 240.24 151.72 240.19 151.81 240.14 151.91 240.09 152.01 240.04 152.10 239.99 152.20 239.95 152.30 239.90 152.40 239.85 152.49 239.80 152.59 239.75 152.69 239.71 152.78 239.66 152.88 239.61 152.98 239.57 153.07 239.52 153.17 239.47 153.27 239.42 153.36 239.38 153.46 239.33 153.56 239.29 153.65 239.24 153.75 239.19 153.85 239.15 153.94 239.10 154.04 239.05 154.14 239.01 154.23 238.96 154.33 238.92 154.43 238.87 154.53 238.83 154.62 238.78 154.72 238.74 154.82 238.69 154.91 238.65 155.01 238.60 155.11 238.56 155.20 238.51 155.30 238.47 155.40 238.42 155.49 238.38 155.59 238.34 155.69 238.29 155.78 238.25 155.88 238.20 155.98 238.16 156.07 238.12 156.17 238.07 156.27 238.03 156.37 237.99 156.46 237.94 156.56 237.90 156.66 237.86 156.75 237.81 156.85 237.77 156.95 237.73 157.04 237.69 157.14 237.64 157.24 237.60 157.33 237.56 157.43 237.52 157.53 237.47 157.62 237.43 157.72 237.39 157.82 237.35 157.91 237.31 158.01 237.26 158.11 237.22 158.21 237.18 158.30 237.14 158.40 237.10 158.50 237.06 158.59 237.02 158.69 236.97 158.79 236.93 158.88 236.89 158.98 236.85 159.08 236.81 159.17 236.77 159.27 236.73 159.37 236.69 159.46 236.65 159.56 236.61 159.66 236.57 159.75 236.53 159.85 236.49 159.95 236.45 160.05 236.41 160.14 236.37 160.24 236.33 160.34 236.29 160.43 236.25 160.53 236.21 160.63 236.17 160.72 236.13 160.82 236.09 160.92 236.05 161.01 236.01 161.11 235.97 161.21 235.94 161.30 235.90 161.40 235.86 161.50 235.82 161.59 235.78 161.69 235.74 161.79 235.71 161.89 235.67 161.98 235.66 162.00 235.66 162.08 235.69 162.18 235.76 162.27 235.84 162.37 235.92 162.47 236.00 162.56 236.08 162.66 236.16 162.76 236.24 162.85 236.32 162.95 236.41 163.05 236.49 163.14 236.58 163.24 236.66 163.34 236.75 163.43 236.84 163.53 236.92 163.63 237.01 163.72 237.10 163.82 237.20 163.92 237.29 164.02 237.38 164.11 237.48 164.21 237.57 164.31 237.67 164.40 237.77 164.50 237.86 164.60 237.96 164.69 238.07 164.79 238.17 164.89 238.27 164.98 238.38 165.08 238.48 165.18 238.59 165.27 238.70 165.37 238.81 165.47 238.92 165.56 239.03 165.66 239.14 165.76 239.26 165.86 239.38 165.95 239.50 166.05 239.62 166.15 239.74 166.24 239.86 166.34 239.99 166.44 240.11 166.53 240.24 166.63 240.37 166.73 240.51 166.82 240.64 166.92 240.78 167.02 240.92 167.11 241.06 167.21 241.20 167.31 241.35 167.40 241.50 167.50 241.65 167.60 241.80 167.70 241.96 167.79 242.11 167.89 242.27 167.99 242.44 168.08 242.61 168.18 242.78 168.28 242.95 168.37 243.13 168.47 243.31 168.57 243.49 168.66 243.68 168.76 243.87 168.86 244.07 168.95 244.27 169.05 244.47 169.15 244.68 169.24 244.90 169.34 245.12 169.44 245.34 169.54 245.57 169.63 245.81 169.73 246.05 169.83 246.30 169.92 246.56 170.02 246.82 170.12 247.09 170.21 247.37 170.31 247.66 170.41 247.96 170.50 248.27 170.60 248.58 170.70 248.91 170.79 249.25 170.89 249.61 170.99 249.98 171.08 250.36 171.18 250.76 171.28 251.18 171.37 251.61 171.47 252.07 171.57 252.55 171.67 253.06 171.76 253.60 171.86 254.17 171.96 254.77 172.05 255.42 172.15 256.11 172.25 256.86 172.34 257.68 172.44 258.57 172.54 259.56 172.63 260.65 172.73 261.90 172.83 263.33 172.92 265.01 173.02 267.06 173.12 269.67 173.21 273.28 173.31 279.15 173.41 297.25 173.43 312.10 173.51 282.57 173.60 274.96 173.70 270.78 173.80 267.87 173.89 265.65 173.99 263.84 174.09 262.32 174.18 261.01 174.28 259.86 174.38 258.82 174.47 257.89 174.57 257.04 174.67 256.26 174.76 255.54 174.86 254.87 174.96 254.24 175.05 253.65 175.15 253.10 175.25 252.57 175.35 252.07 175.44 251.60 175.54 251.14 175.64 250.71 175.73 250.30 175.83 249.90 175.93 249.52 176.02 249.15 176.12 248.80 176.22 248.45 176.31 248.12 176.41 247.80 176.51 247.49 176.60 247.19 176.70 246.90 176.80 246.62 176.89 246.35 176.99 246.08 177.09 245.82 177.19 245.56 177.28 245.32 177.38 245.08 177.48 244.84 177.57 244.61 177.67 244.38 177.77 244.16 177.86 243.95 177.96 243.74 178.06 243.53 178.15 243.33 178.25 243.13 178.35 242.94 178.44 242.75 178.54 242.56 178.64 242.38 178.73 242.20 178.83 242.02 178.93 241.85 179.03 241.68 179.12 241.51 179.22 241.34 179.32 241.18 179.41 241.02 179.51 240.86 179.61 240.71 179.70 240.55 179.80 240.40 179.90 240.26 179.99 240.11 180.09 239.97 180.19 239.82 180.28 239.68 180.38 239.54 180.48 239.41 180.57 239.27 180.67 239.14 180.77 239.01 180.86 238.88 180.96 238.75 181.06 238.63 181.16 238.50 181.25 238.38 181.35 238.26 181.45 238.14 181.54 238.02 181.64 237.90 181.74 237.78 181.83 237.67 181.93 237.56 182.03 237.44 182.12 237.33 182.22 237.22 182.32 237.11 182.41 237.01 182.51 236.90 182.61 236.79 182.70 236.69 182.80 236.59 182.90 236.48 183.00 236.38 183.09 236.28 183.19 236.18 183.29 236.08 183.38 235.99 183.48 235.89 183.58 235.79 183.67 235.70 183.77 235.67 183.87 235.84 183.96 236.04 184.06 236.25 184.16 236.48 184.25 236.71 184.35 236.95 184.45 237.21 184.54 237.49 184.64 237.78 184.74 238.10 184.84 238.43 184.93 238.80 185.03 239.19 185.13 239.63 185.22 240.10 185.32 240.63 185.42 241.24 185.51 241.92 185.61 242.73 185.71 243.71 185.80 244.94 185.90 246.61 186.00 249.22 186.09 257.42 186.19 252.97 186.29 248.40 186.38 246.10 186.48 244.55 186.58 243.37 186.68 242.43 186.77 241.64 186.87 240.96 186.97 240.37 187.06 239.83 187.16 239.35 187.26 238.92 187.35 238.51 187.45 238.14 187.55 237.80 187.64 237.47 187.74 237.17 187.84 236.88 187.93 236.61 188.03 236.35 188.13 236.11 188.22 235.87 188.32 235.65 188.42 236.03 188.51 236.63 188.61 237.45 188.71 238.71 188.81 241.67 188.90 240.72 189.00 238.35 189.10 237.17 189.19 236.37 189.29 235.77 189.39 236.81 189.48 236.31 189.58 235.90 189.68 234.65 189.77 234.27 189.87 235.62 189.97 234.99 190.06 233.61 190.16 233.52 190.26 234.04 190.35 233.17 190.45 233.19 190.55 233.05 190.65 232.58 190.74 232.22 190.84 232.82 190.94 232.26 191.03 232.20 191.13 231.96 191.23 232.33 191.32 235.81 191.42 232.41 191.52 231.73 191.61 231.79 191.71 232.51 191.81 231.56 191.90 231.55 192.00 231.70 192.10 231.69 192.19 231.49 192.29 231.93 192.39 241.81 192.49 236.16 192.58 236.39 192.68 234.24 192.78 232.08 192.87 231.71 192.97 231.24 193.07 234.21 193.16 230.92 193.26 231.01 193.36 231.41 193.45 230.51 193.55 230.90 193.65 230.32 193.74 230.37 193.84 230.39 193.94 230.13 194.03 230.39 194.13 230.98 194.23 230.22 194.33 229.98 194.42 229.77 194.52 229.73 194.62 229.48 194.71 229.53 194.81 229.10 194.91 229.06 195.00 229.46 195.10 228.78 195.20 228.83 195.29 229.45 195.39 228.89 195.49 229.18 195.58 229.37 195.68 228.64 195.78 229.01 195.87 228.70 195.97 238.21 196.07 229.44 196.17 229.21 196.26 229.23 196.36 228.82 196.46 228.82 196.55 228.79 196.65 228.45 196.75 228.98 196.84 228.44 196.94 228.43 197.04 228.77 197.13 228.46 197.23 228.10 197.33 228.53 197.42 228.36 197.52 228.25 197.62 228.51 197.71 246.52 197.81 238.06 197.91 240.54 198.00 233.94 198.10 229.81 198.20 229.11 198.30 228.32 198.39 228.75 198.49 228.33 198.59 228.40 198.68 228.25 198.78 228.03 198.88 228.34 198.97 227.74 199.07 228.13 199.17 228.15 199.26 227.86 199.36 228.18 199.46 227.81 199.55 228.05 199.65 228.32 199.75 227.85 199.84 227.82 199.94 227.99 200.04 227.53 200.14 227.40 200.23 227.69 200.33 227.34 200.43 227.62 200.52 227.06 200.62 227.24 200.72 227.31 200.81 227.44 200.91 227.10 201.01 227.45 201.10 227.23 201.20 227.21 201.30 227.17 201.39 226.81 201.49 227.58 201.59 227.19 201.68 227.26 201.78 227.54 201.88 227.80 201.98 227.53 202.07 228.65 202.17 242.39 202.27 260.09 202.36 243.86 202.46 240.08 202.56 237.95 202.65 236.55 202.75 236.16 202.85 240.67 202.94 238.21 203.04 236.52 203.14 234.39 203.23 233.36 203.33 236.00 203.43 231.84 203.52 229.48 203.62 228.16 203.72 227.64 203.82 227.58 203.91 227.78 204.01 227.31 204.11 227.41 204.20 227.95 204.30 227.18 204.40 226.87 204.49 226.71 204.59 226.47 204.69 226.07 204.78 226.28 204.88 226.39 204.98 226.96 205.07 226.22 205.17 226.28 205.27 225.83 205.36 226.09 205.46 225.94 205.56 226.10 205.66 226.07 205.75 225.99 205.85 236.92 205.95 226.95 206.04 226.24 206.14 226.28 206.24 225.92 206.33 225.95 206.43 225.70 206.53 225.53 206.62 225.48 206.72 225.73 206.82 225.29 206.91 224.95 207.01 225.15 207.11 225.37 207.20 225.03 207.30 224.88 207.40 225.74 207.49 225.15 207.59 224.75 207.69 224.92 207.79 224.59 207.88 224.42 207.98 224.53 208.08 224.69 208.17 224.55 208.27 224.68 208.37 224.72 208.46 225.85 208.56 226.59 208.66 224.44 208.75 224.69 208.85 224.56 208.95 224.48 209.04 224.22 209.14 224.50 209.24 223.78 209.33 224.16 209.43 223.76 209.53 224.02 209.63 223.57 209.72 223.58 209.82 223.38 209.92 223.31 210.01 223.15 210.11 223.04 210.21 222.84 210.30 222.86 210.40 222.35" fill="none" stroke="#0072bd" stroke-width="1.75" stroke-linejoin="round"/>
<path d="M241.80 313.70 L243.65 313.70 243.95 310.85 244.24 308.37 244.54 306.17 244.83 304.20 245.13 302.41 245.43 300.77 245.72 299.27 246.02 297.87 246.32 296.57 246.61 295.35 246.91 294.20 247.20 293.12 247.50 292.09 247.80 291.12 248.09 290.19 248.39 289.31 248.69 288.47 248.98 287.66 249.28 286.88 249.57 286.14 249.87 285.42 250.17 284.73 250.46 284.06 250.76 283.41 251.05 282.79 251.35 282.18 251.65 281.60 251.94 281.03 252.24 280.47 252.54 279.94 252.83 279.41 253.13 278.91 253.42 278.41 253.72 277.93 254.02 277.46 254.31 277.00 254.61 276.55 254.91 276.11 255.20 275.68 255.50 275.26 255.79 274.85 256.09 274.45 256.39 274.05 256.68 273.67 256.98 273.29 257.28 272.92 257.57 272.55 257.87 272.20 258.16 271.84 258.46 271.50 258.76 271.16 259.05 270.83 259.35 270.50 259.64 270.18 259.94 269.87 260.24 269.55 260.53 269.25 260.83 268.95 261.13 268.65 261.42 268.36 261.72 268.07 262.01 267.79 262.31 267.51 262.61 267.23 262.90 266.96 263.20 266.69 263.50 266.43 263.79 266.17 264.09 265.91 264.38 265.66 264.68 265.41 264.98 265.16 265.27 264.92 265.57 264.68 265.87 264.44 266.16 264.20 266.46 263.97 266.75 263.74 267.05 263.52 270.05 261.36 273.04 259.43 276.04 257.67 279.03 256.06 282.03 254.57 285.02 253.20 288.02 251.91 291.02 250.70 294.01 249.57 297.01 248.50 300.00 247.48 303.00 246.52 305.99 245.60 308.99 244.73 311.99 243.89 314.98 243.09 317.98 242.32 320.97 241.57 323.97 240.86 326.97 240.17 329.96 239.51 332.96 238.87 335.95 238.25 338.95 237.65 341.94 237.06 344.94 236.50 347.94 235.95 350.93 235.41 353.93 234.89 356.92 234.39 359.92 233.89 362.91 233.41 365.91 232.94 368.91 232.49 371.90 232.04 374.90 231.60 377.89 231.17 380.89 230.76 383.88 230.35 386.88 229.95 389.88 229.55 392.87 229.17 395.87 228.79 398.86 228.42 401.86 228.06 404.86 227.70 407.85 227.35 410.85 227.01 413.84 226.67 416.84 226.34 419.83 226.02 422.83 225.70 425.83 225.38 428.82 225.07 431.82 224.77 434.81 224.47 437.81 224.17 440.80 223.88 443.80 223.59" fill="none" stroke="#0072bd" stroke-width="2.0" stroke-linejoin="round"/>
<path d="M474.90 238.80 474.90 258.50 475.50 260.43 476.00 257.21 476.50 259.29 477.00 258.60 477.50 258.68 478.00 258.85 478.50 257.59 479.00 258.79 479.50 258.22 480.00 261.03 480.50 258.73 481.00 258.20 481.50 258.13 482.00 257.73 482.50 257.25 483.00 257.50 483.50 257.90 484.00 257.18 484.50 257.81 485.00 256.79 485.50 256.88 486.00 258.12 486.50 257.58 487.00 257.01 487.50 257.41 488.00 258.08 488.50 259.22 489.00 257.84 489.50 258.03 490.00 259.07 490.50 257.91 491.00 258.50 491.50 259.48 492.00 259.44 492.50 259.26 493.00 259.84 493.50 257.55 494.00 260.41 494.50 259.19 495.00 258.87 495.50 260.25 496.00 260.47 496.50 259.59 497.00 259.07 497.50 259.77 498.00 259.64 498.50 260.58 499.00 260.08 499.50 259.64 500.00 260.24 500.50 259.27 501.00 258.72 501.50 259.74 502.00 259.76 502.50 259.32 503.00 259.05 503.50 259.89 504.00 258.10 504.50 260.46 505.00 260.44 505.50 258.59 506.00 259.42 506.50 258.33 507.00 259.18 507.20 258.50 510.50 253.39 511.00 253.20 511.50 253.20 512.00 252.78 512.50 251.04 513.00 251.05 513.50 250.76 514.00 249.89 514.50 250.16 515.00 248.68 515.50 248.72 516.00 247.73 516.50 248.59 517.00 248.09 517.50 247.97 518.00 248.08 518.50 250.00 519.00 250.20 519.50 250.59 520.00 251.12 520.50 251.24 521.00 251.28 521.50 251.62 522.00 252.00 522.50 253.15 523.00 252.54 523.50 253.23 524.00 253.71 524.50 254.28 525.00 254.79 525.50 254.53 526.00 254.76 526.40 255.70 526.70 238.60 530.00 237.80 534.10 237.40 539.00 236.80 544.00 235.80 549.00 234.90 553.80 233.70 557.00 232.80 559.90 231.70 563.00 230.20 566.00 228.40 569.70 226.00 572.50 223.50 574.70 221.10 576.30 219.20 577.60 216.90 578.00 279.50 578.60 275.80 579.90 276.40 581.10 277.70 582.30 273.30 584.20 269.60 586.00 265.30 587.00 262.20 587.50 252.30 588.50 251.70 589.10 254.80 589.50 263.50 590.40 265.90 591.60 267.80 592.20 265.30 594.70 265.30 597.20 265.90 598.50 267.00 599.60 267.80 601.50 270.90 602.70 272.70 604.00 270.20 604.60 275.60 605.80 269.00 607.00 273.30 608.90 270.20 609.30 272.89 609.90 274.50 610.50 274.09 611.10 273.58 611.70 273.08 612.30 273.95 612.90 273.45 613.50 274.86 614.10 273.07 614.70 274.35 615.30 274.21 615.90 275.16 616.50 274.94 617.00 274.80 617.60 277.00 618.40 272.80 619.00 276.15 619.60 274.96 620.20 274.83 620.80 271.15 621.40 272.72 622.00 272.31 622.10 272.90 623.30 276.60 624.50 270.50 625.60 269.40 627.00 271.00 628.00 268.20 629.00 270.50 630.30 271.70 631.40 267.00 633.80 258.90 637.30 254.20 640.80 248.40 642.60 242.60 643.10 271.70 644.20 267.00 645.40 266.50 646.60 264.70 647.70 268.20 649.00 267.50 650.10 266.20 651.40 267.50 652.30 261.20 653.00 268.00 654.80 267.80 655.80 260.10 656.50 268.20 659.40 267.60 661.70 268.20 664.50 267.80 665.20 255.40 665.90 268.60 668.50 268.20 670.60 256.60 671.20 268.40 673.80 268.20 674.40 256.60 675.00 268.40 677.40 268.20 678.00 257.70 678.60 268.40 679.60 268.20 680.30 257.70 680.90 268.20 683.40 267.80" fill="none" stroke="#0072bd" stroke-width="1.7" stroke-linejoin="round"/>
</g>
</svg></body></html>
